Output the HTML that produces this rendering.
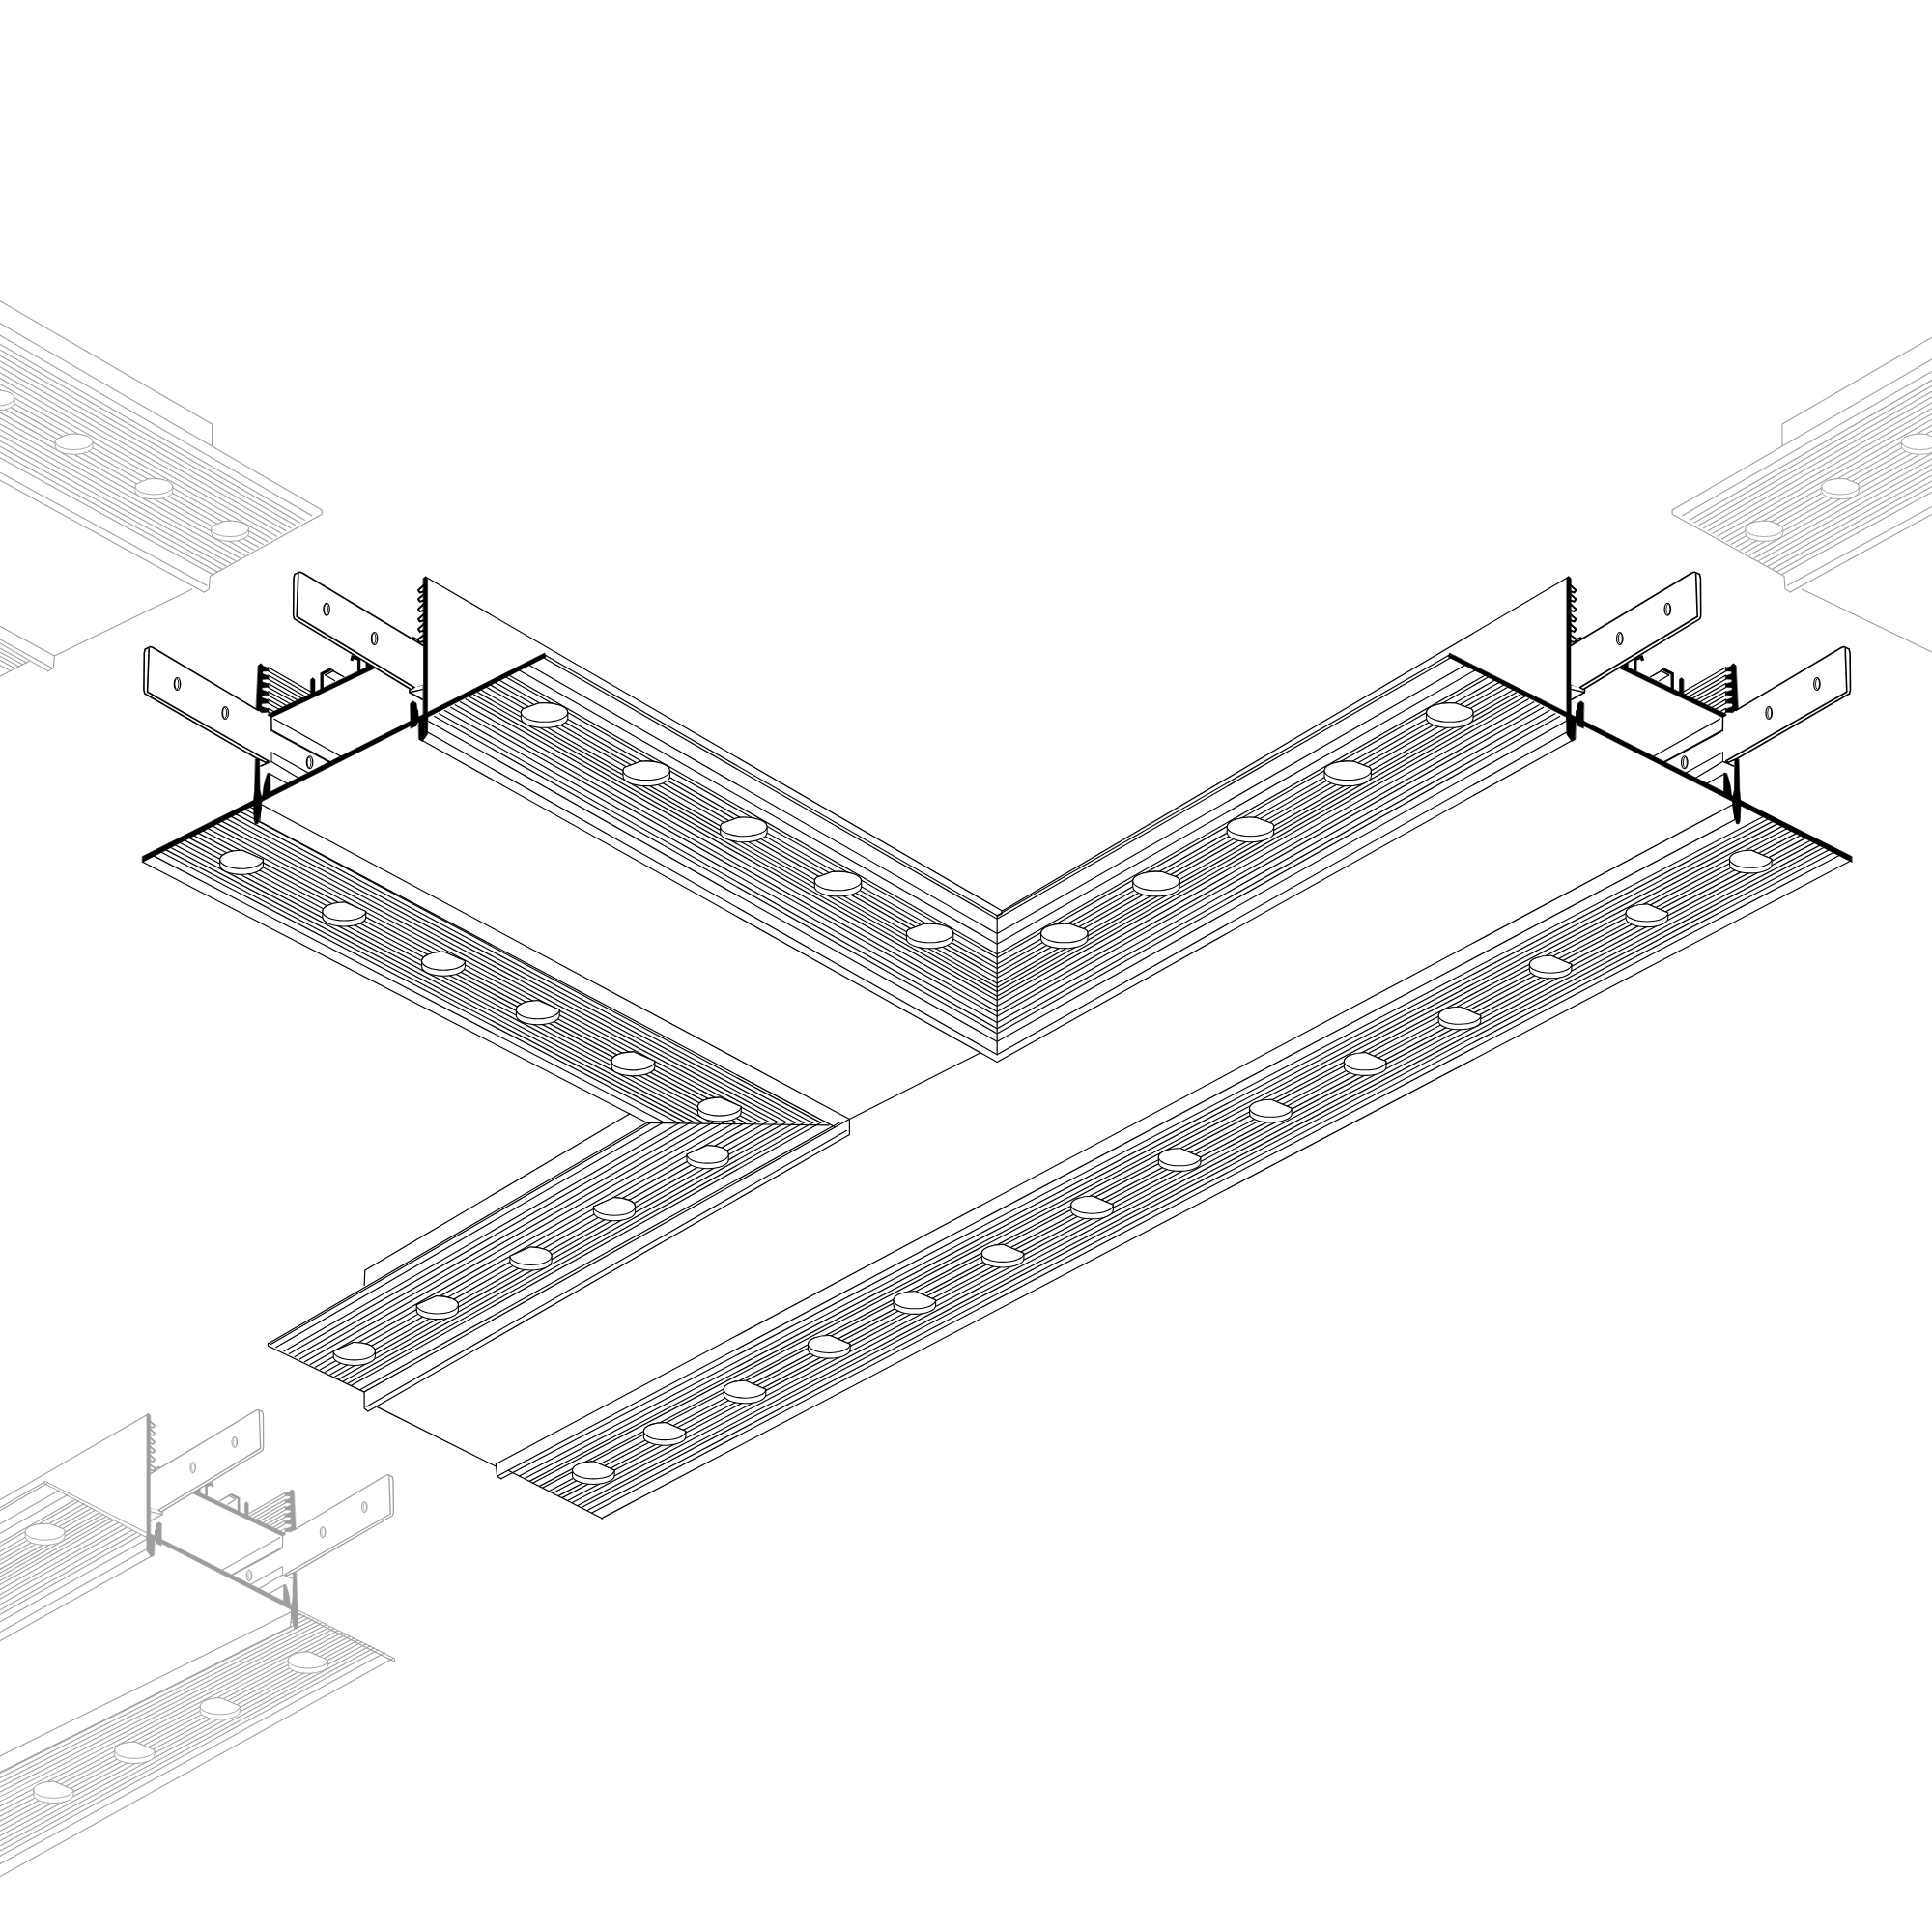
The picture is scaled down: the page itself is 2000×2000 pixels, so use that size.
<!DOCTYPE html>
<html><head><meta charset="utf-8"><title>T-connector</title>
<style>html,body{margin:0;padding:0;background:#fff;font-family:"Liberation Sans",sans-serif;}svg{display:block}</style>
</head><body>
<svg width="2000" height="2000" viewBox="0 0 2000 2000">
<rect width="2000" height="2000" fill="#fff"/>
<path d="M198.8,609.9 L56.4,678.9" fill="none" stroke="#9e9e9e" stroke-width="1.1" stroke-linejoin="round" stroke-linecap="round"/>
<path d="M56.4,678.9 L55.4,691.3 L49.7,694.9" fill="none" stroke="#9e9e9e" stroke-width="1.1" stroke-linejoin="round" stroke-linecap="round"/>
<path d="M56.4,678.9 L-10.0,642.9" fill="none" stroke="#9e9e9e" stroke-width="1.1" stroke-linejoin="round" stroke-linecap="round"/>
<path d="M53.8,691.6 L-10.0,656.4" fill="none" stroke="#9e9e9e" stroke-width="1.1" stroke-linejoin="round" stroke-linecap="round"/>
<path d="M49.7,694.9 L-10.0,660.0" fill="none" stroke="#9e9e9e" stroke-width="1.1" stroke-linejoin="round" stroke-linecap="round"/>
<path d="M30.0,684.6 L-10.0,705.2" fill="none" stroke="#9e9e9e" stroke-width="1.1" stroke-linejoin="round" stroke-linecap="round"/>
<path d="M-10.0,665.7 L27.5,685.9" fill="none" stroke="#9e9e9e" stroke-width="1.1" stroke-linejoin="round" stroke-linecap="round"/>
<path d="M-10.0,669.8 L23.6,687.9" fill="none" stroke="#9e9e9e" stroke-width="1.1" stroke-linejoin="round" stroke-linecap="round"/>
<path d="M-10.0,674.0 L19.6,689.9" fill="none" stroke="#9e9e9e" stroke-width="1.1" stroke-linejoin="round" stroke-linecap="round"/>
<path d="M-10.0,678.1 L15.7,691.9" fill="none" stroke="#9e9e9e" stroke-width="1.1" stroke-linejoin="round" stroke-linecap="round"/>
<path d="M-10.0,683.3 L10.8,694.5" fill="none" stroke="#9e9e9e" stroke-width="1.1" stroke-linejoin="round" stroke-linecap="round"/>
<path d="M-50.0,282.7 L219.5,439.0 L219.5,461.5" fill="none" stroke="#9e9e9e" stroke-width="1.1" stroke-linejoin="round" stroke-linecap="round"/>
<path d="M-50.0,305.5 L333.3,528.1 M-50.0,318.1 L323.2,534.0 M-50.0,327.5 L315.7,538.5 M-50.0,333.4 L310.9,541.3 M-50.0,339.4 L306.1,544.1 M-50.0,345.3 L301.4,546.9 M-50.0,351.3 L296.6,549.7 M-50.0,357.2 L291.8,552.6 M-50.0,363.2 L287.0,555.4 M-50.0,369.1 L282.3,558.2 M-50.0,375.1 L277.5,561.0 M-50.0,381.0 L272.7,563.8 M-50.0,387.0 L267.9,566.6 M-50.0,393.0 L263.2,569.4 M-50.0,398.9 L258.4,572.2 M-50.0,404.9 L253.6,575.1 M-50.0,410.8 L248.8,577.9 M-50.0,416.8 L244.1,580.7 M-50.0,422.7 L239.3,583.5 M-50.0,428.7 L234.5,586.3 M-50.0,434.6 L229.7,589.1 M-50.0,440.6 L225.0,591.9 M-50.0,446.5 L220.2,594.8" fill="none" stroke="#9e9e9e" stroke-width="1.1" stroke-linecap="butt"/>
<path d="M333.3,528.1 L333.3,532.2 L217.4,596.4 L216.4,609.9 L211.2,613.0" fill="none" stroke="#9e9e9e" stroke-width="1.1" stroke-linejoin="round" stroke-linecap="round"/>
<path d="M211.2,613.0 L-50.0,469.7" fill="none" stroke="#9e9e9e" stroke-width="1.1" stroke-linejoin="round" stroke-linecap="round"/>
<path d="M214.2,606.3 L-50.0,461.8" fill="none" stroke="#9e9e9e" stroke-width="1.1" stroke-linejoin="round" stroke-linecap="round"/>
<path d="M57.2,457.4 L57.2,462.2 A19.4,8.2 0 0 0 96.0,462.2 L96.0,457.4 A19.4,8.2 0 0 0 70.0,449.7 L58.4,454.6 A19.4,8.2 0 0 0 57.2,457.4 Z" fill="#fff" stroke="#9e9e9e" stroke-width="0.9" stroke-linejoin="round"/>
<path d="M57.2,457.4 A19.4,8.2 0 0 1 58.4,454.6 L70.0,449.7 A19.4,8.2 0 0 1 96.0,457.4 A19.4,8.2 0 0 1 57.2,457.4 Z" fill="#fff" stroke="#9e9e9e" stroke-width="0.9" stroke-linejoin="round"/>
<path d="M140.0,503.8 L140.0,508.6 A19.4,8.2 0 0 0 178.8,508.6 L178.8,503.8 A19.4,8.2 0 0 0 152.8,496.1 L141.2,501.0 A19.4,8.2 0 0 0 140.0,503.8 Z" fill="#fff" stroke="#9e9e9e" stroke-width="0.9" stroke-linejoin="round"/>
<path d="M140.0,503.8 A19.4,8.2 0 0 1 141.2,501.0 L152.8,496.1 A19.4,8.2 0 0 1 178.8,503.8 A19.4,8.2 0 0 1 140.0,503.8 Z" fill="#fff" stroke="#9e9e9e" stroke-width="0.9" stroke-linejoin="round"/>
<path d="M218.7,547.4 L218.7,552.2 A19.4,8.2 0 0 0 257.5,552.2 L257.5,547.4 A19.4,8.2 0 0 0 231.5,539.7 L219.9,544.6 A19.4,8.2 0 0 0 218.7,547.4 Z" fill="#fff" stroke="#9e9e9e" stroke-width="0.9" stroke-linejoin="round"/>
<path d="M218.7,547.4 A19.4,8.2 0 0 1 219.9,544.6 L231.5,539.7 A19.4,8.2 0 0 1 257.5,547.4 A19.4,8.2 0 0 1 218.7,547.4 Z" fill="#fff" stroke="#9e9e9e" stroke-width="0.9" stroke-linejoin="round"/>
<path d="M-23.8,412.1 L-23.8,416.9 A19.4,8.2 0 0 0 15.0,416.9 L15.0,412.1 A19.4,8.2 0 0 0 -11.0,404.4 L-22.6,409.3 A19.4,8.2 0 0 0 -23.8,412.1 Z" fill="#fff" stroke="#9e9e9e" stroke-width="0.9" stroke-linejoin="round"/>
<path d="M-23.8,412.1 A19.4,8.2 0 0 1 -22.6,409.3 L-11.0,404.4 A19.4,8.2 0 0 1 15.0,412.1 A19.4,8.2 0 0 1 -23.8,412.1 Z" fill="#fff" stroke="#9e9e9e" stroke-width="0.9" stroke-linejoin="round"/>
<path d="M1865.6,609.9 L2008.0,678.9" fill="none" stroke="#9e9e9e" stroke-width="1.1" stroke-linejoin="round" stroke-linecap="round"/>
<path d="M2008.0,678.9 L2009.0,691.3 L2014.7,694.9" fill="none" stroke="#9e9e9e" stroke-width="1.1" stroke-linejoin="round" stroke-linecap="round"/>
<path d="M2008.0,678.9 L2074.4,642.9" fill="none" stroke="#9e9e9e" stroke-width="1.1" stroke-linejoin="round" stroke-linecap="round"/>
<path d="M2010.6,691.6 L2074.4,656.4" fill="none" stroke="#9e9e9e" stroke-width="1.1" stroke-linejoin="round" stroke-linecap="round"/>
<path d="M2014.7,694.9 L2074.4,660.0" fill="none" stroke="#9e9e9e" stroke-width="1.1" stroke-linejoin="round" stroke-linecap="round"/>
<path d="M2034.4,684.6 L2074.4,705.2" fill="none" stroke="#9e9e9e" stroke-width="1.1" stroke-linejoin="round" stroke-linecap="round"/>
<path d="M2074.4,665.7 L2036.9,685.9" fill="none" stroke="#9e9e9e" stroke-width="1.1" stroke-linejoin="round" stroke-linecap="round"/>
<path d="M2074.4,669.8 L2040.8,687.9" fill="none" stroke="#9e9e9e" stroke-width="1.1" stroke-linejoin="round" stroke-linecap="round"/>
<path d="M2074.4,674.0 L2044.8,689.9" fill="none" stroke="#9e9e9e" stroke-width="1.1" stroke-linejoin="round" stroke-linecap="round"/>
<path d="M2074.4,678.1 L2048.7,691.9" fill="none" stroke="#9e9e9e" stroke-width="1.1" stroke-linejoin="round" stroke-linecap="round"/>
<path d="M2074.4,683.3 L2053.6,694.5" fill="none" stroke="#9e9e9e" stroke-width="1.1" stroke-linejoin="round" stroke-linecap="round"/>
<path d="M2114.4,282.7 L1844.9,439.0 L1844.9,461.5" fill="none" stroke="#9e9e9e" stroke-width="1.1" stroke-linejoin="round" stroke-linecap="round"/>
<path d="M2114.4,305.5 L1731.1,528.1 M2114.4,318.1 L1741.2,534.0 M2114.4,327.5 L1748.7,538.5 M2114.4,333.4 L1753.5,541.3 M2114.4,339.4 L1758.3,544.1 M2114.4,345.3 L1763.0,546.9 M2114.4,351.3 L1767.8,549.7 M2114.4,357.2 L1772.6,552.6 M2114.4,363.2 L1777.4,555.4 M2114.4,369.1 L1782.1,558.2 M2114.4,375.1 L1786.9,561.0 M2114.4,381.0 L1791.7,563.8 M2114.4,387.0 L1796.5,566.6 M2114.4,393.0 L1801.2,569.4 M2114.4,398.9 L1806.0,572.2 M2114.4,404.9 L1810.8,575.1 M2114.4,410.8 L1815.6,577.9 M2114.4,416.8 L1820.3,580.7 M2114.4,422.7 L1825.1,583.5 M2114.4,428.7 L1829.9,586.3 M2114.4,434.6 L1834.7,589.1 M2114.4,440.6 L1839.4,591.9 M2114.4,446.5 L1844.2,594.8" fill="none" stroke="#9e9e9e" stroke-width="1.1" stroke-linecap="butt"/>
<path d="M1731.1,528.1 L1731.1,532.2 L1847.0,596.4 L1848.0,609.9 L1853.2,613.0" fill="none" stroke="#9e9e9e" stroke-width="1.1" stroke-linejoin="round" stroke-linecap="round"/>
<path d="M1853.2,613.0 L2114.4,469.7" fill="none" stroke="#9e9e9e" stroke-width="1.1" stroke-linejoin="round" stroke-linecap="round"/>
<path d="M1850.2,606.3 L2114.4,461.8" fill="none" stroke="#9e9e9e" stroke-width="1.1" stroke-linejoin="round" stroke-linecap="round"/>
<path d="M2007.2,457.4 L2007.2,462.2 A19.4,8.2 0 0 1 1968.4,462.2 L1968.4,457.4 A19.4,8.2 0 0 1 1994.4,449.7 L2006.0,454.6 A19.4,8.2 0 0 1 2007.2,457.4 Z" fill="#fff" stroke="#9e9e9e" stroke-width="0.9" stroke-linejoin="round"/>
<path d="M2007.2,457.4 A19.4,8.2 0 0 0 2006.0,454.6 L1994.4,449.7 A19.4,8.2 0 0 0 1968.4,457.4 A19.4,8.2 0 0 0 2007.2,457.4 Z" fill="#fff" stroke="#9e9e9e" stroke-width="0.9" stroke-linejoin="round"/>
<path d="M1924.4,503.8 L1924.4,508.6 A19.4,8.2 0 0 1 1885.6,508.6 L1885.6,503.8 A19.4,8.2 0 0 1 1911.6,496.1 L1923.2,501.0 A19.4,8.2 0 0 1 1924.4,503.8 Z" fill="#fff" stroke="#9e9e9e" stroke-width="0.9" stroke-linejoin="round"/>
<path d="M1924.4,503.8 A19.4,8.2 0 0 0 1923.2,501.0 L1911.6,496.1 A19.4,8.2 0 0 0 1885.6,503.8 A19.4,8.2 0 0 0 1924.4,503.8 Z" fill="#fff" stroke="#9e9e9e" stroke-width="0.9" stroke-linejoin="round"/>
<path d="M1845.7,547.4 L1845.7,552.2 A19.4,8.2 0 0 1 1806.9,552.2 L1806.9,547.4 A19.4,8.2 0 0 1 1832.9,539.7 L1844.5,544.6 A19.4,8.2 0 0 1 1845.7,547.4 Z" fill="#fff" stroke="#9e9e9e" stroke-width="0.9" stroke-linejoin="round"/>
<path d="M1845.7,547.4 A19.4,8.2 0 0 0 1844.5,544.6 L1832.9,539.7 A19.4,8.2 0 0 0 1806.9,547.4 A19.4,8.2 0 0 0 1845.7,547.4 Z" fill="#fff" stroke="#9e9e9e" stroke-width="0.9" stroke-linejoin="round"/>
<path d="M2088.2,412.1 L2088.2,416.9 A19.4,8.2 0 0 1 2049.4,416.9 L2049.4,412.1 A19.4,8.2 0 0 1 2075.4,404.4 L2087.0,409.3 A19.4,8.2 0 0 1 2088.2,412.1 Z" fill="#fff" stroke="#9e9e9e" stroke-width="0.9" stroke-linejoin="round"/>
<path d="M2088.2,412.1 A19.4,8.2 0 0 0 2087.0,409.3 L2075.4,404.4 A19.4,8.2 0 0 0 2049.4,412.1 A19.4,8.2 0 0 0 2088.2,412.1 Z" fill="#fff" stroke="#9e9e9e" stroke-width="0.9" stroke-linejoin="round"/>
<path d="M398.8,1710.4 L-72.2,1969.3 M392.1,1707.4 L-81.3,1965.7 M387.9,1705.4 L-87.0,1963.3 M383.7,1703.5 L-92.8,1961.0 M379.4,1701.6 L-98.6,1958.6 M375.2,1699.6 L-104.4,1956.3 M371.0,1697.7 L-110.1,1953.9 M366.7,1695.8 L-115.9,1951.6 M362.5,1693.8 L-121.7,1949.2 M358.3,1691.9 L-127.4,1946.9 M354.1,1690.0 L-133.2,1944.6 M349.8,1688.0 L-139.0,1942.2 M345.6,1686.1 L-144.7,1939.9 M341.4,1684.2 L-150.5,1937.5 M337.2,1682.3 L-156.3,1935.2 M332.9,1680.3 L-162.0,1932.8 M328.7,1678.4 L-167.8,1930.5 M324.5,1676.5 L-173.6,1928.1 M320.2,1674.5 L-179.3,1925.8 M316.0,1672.6 L-185.1,1923.5 M311.8,1670.7 L-190.9,1921.1 M307.6,1668.7 L-196.6,1918.8" fill="none" stroke="#9e9e9e" stroke-width="1.1" stroke-linecap="butt"/>
<path d="M407.7,1716.2 L-60.0,1976.0" fill="none" stroke="#9e9e9e" stroke-width="1.1" stroke-linejoin="round" stroke-linecap="round"/>
<path d="M302.0,1668.6 L-200.0,1916.9 L-200.0,1935.0 L300.5,1683.9 Z" fill="#fff" stroke="#9e9e9e" stroke-width="1.1" stroke-linejoin="round" stroke-linecap="round"/>
<path d="M339.5,1718.5 L339.5,1723.7 A20.6,8.6 0 0 1 298.3,1723.7 L298.3,1718.5 A20.6,8.6 0 0 1 319.6,1709.9 L339.5,1718.5 A20.6,8.6 0 0 1 339.5,1718.5 Z" fill="#fff" stroke="#9e9e9e" stroke-width="0.9" stroke-linejoin="round"/>
<path d="M339.5,1718.5 A20.6,8.6 0 0 0 339.5,1718.5 L319.6,1709.9 A20.6,8.6 0 0 0 298.3,1718.5 A20.6,8.6 0 0 0 339.5,1718.5 Z" fill="#fff" stroke="#9e9e9e" stroke-width="0.9" stroke-linejoin="round"/>
<path d="M248.4,1766.3 L248.4,1771.5 A20.6,8.6 0 0 1 207.2,1771.5 L207.2,1766.3 A20.6,8.6 0 0 1 228.5,1757.7 L248.4,1766.3 A20.6,8.6 0 0 1 248.4,1766.3 Z" fill="#fff" stroke="#9e9e9e" stroke-width="0.9" stroke-linejoin="round"/>
<path d="M248.4,1766.3 A20.6,8.6 0 0 0 248.4,1766.3 L228.5,1757.7 A20.6,8.6 0 0 0 207.2,1766.3 A20.6,8.6 0 0 0 248.4,1766.3 Z" fill="#fff" stroke="#9e9e9e" stroke-width="0.9" stroke-linejoin="round"/>
<path d="M160.0,1811.8 L160.0,1817.0 A20.6,8.6 0 0 1 118.8,1817.0 L118.8,1811.8 A20.6,8.6 0 0 1 140.1,1803.2 L160.0,1811.8 A20.6,8.6 0 0 1 160.0,1811.8 Z" fill="#fff" stroke="#9e9e9e" stroke-width="0.9" stroke-linejoin="round"/>
<path d="M160.0,1811.8 A20.6,8.6 0 0 0 160.0,1811.8 L140.1,1803.2 A20.6,8.6 0 0 0 118.8,1811.8 A20.6,8.6 0 0 0 160.0,1811.8 Z" fill="#fff" stroke="#9e9e9e" stroke-width="0.9" stroke-linejoin="round"/>
<path d="M76.0,1852.8 L76.0,1858.0 A20.6,8.6 0 0 1 34.8,1858.0 L34.8,1852.8 A20.6,8.6 0 0 1 56.1,1844.2 L76.0,1852.8 A20.6,8.6 0 0 1 76.0,1852.8 Z" fill="#fff" stroke="#9e9e9e" stroke-width="0.9" stroke-linejoin="round"/>
<path d="M76.0,1852.8 A20.6,8.6 0 0 0 76.0,1852.8 L56.1,1844.2 A20.6,8.6 0 0 0 34.8,1852.8 A20.6,8.6 0 0 0 76.0,1852.8 Z" fill="#fff" stroke="#9e9e9e" stroke-width="0.9" stroke-linejoin="round"/>
<path d="M-4.4,1891.9 L-4.4,1897.1 A20.6,8.6 0 0 1 -45.6,1897.1 L-45.6,1891.9 A20.6,8.6 0 0 1 -24.3,1883.3 L-4.4,1891.9 A20.6,8.6 0 0 1 -4.4,1891.9 Z" fill="#fff" stroke="#9e9e9e" stroke-width="0.9" stroke-linejoin="round"/>
<path d="M-4.4,1891.9 A20.6,8.6 0 0 0 -4.4,1891.9 L-24.3,1883.3 A20.6,8.6 0 0 0 -45.6,1891.9 A20.6,8.6 0 0 0 -4.4,1891.9 Z" fill="#fff" stroke="#9e9e9e" stroke-width="0.9" stroke-linejoin="round"/>
<path d="M46.3,1534.0 L-361.1,1768.7 M49.0,1535.5 L-361.1,1771.7 M61.5,1542.4 L-361.1,1785.0 M70.2,1547.2 L-361.1,1794.3 M78.9,1552.0 L-361.1,1803.5 M82.0,1553.7 L-361.1,1806.8 M87.3,1556.6 L-361.1,1812.5 M91.0,1558.7 L-361.1,1816.4 M95.3,1561.0 L-361.1,1821.0 M98.9,1563.0 L-361.1,1824.8 M103.6,1565.6 L-361.1,1829.8 M107.0,1567.5 L-361.1,1833.5 M110.5,1569.4 L-361.1,1837.2 M114.4,1571.5 L-361.1,1841.3 M117.9,1573.5 L-361.1,1845.0 M122.7,1576.1 L-361.1,1850.2 M127.5,1578.8 L-361.1,1855.3 M131.3,1580.9 L-361.1,1859.3 M136.7,1583.9 L-361.1,1865.1 M141.7,1586.6 L-361.1,1870.5 M146.0,1589.0 L-361.1,1875.0 M152.8,1592.7 L-361.1,1882.3" fill="none" stroke="#9e9e9e" stroke-width="1.1" stroke-linecap="butt"/>
<path d="M153.6,1463.8 L-365.3,1764.1" fill="none" stroke="#9e9e9e" stroke-width="1.1" stroke-linejoin="round" stroke-linecap="round"/>
<path d="M153.3,1602.8 L-361.1,1894.0" fill="none" stroke="#9e9e9e" stroke-width="1.1" stroke-linejoin="round" stroke-linecap="round"/>
<path d="M156.7,1610.9 L-361.1,1900.7" fill="none" stroke="#9e9e9e" stroke-width="1.1" stroke-linejoin="round" stroke-linecap="round"/>
<path d="M67.1,1585.8 L67.1,1591.0 A20.5,8.5 0 0 1 26.1,1591.0 L26.1,1585.8 A20.5,8.5 0 0 1 51.9,1577.6 L65.9,1582.9 A20.5,8.5 0 0 1 67.1,1585.8 Z" fill="#fff" stroke="#9e9e9e" stroke-width="0.9" stroke-linejoin="round"/>
<path d="M67.1,1585.8 A20.5,8.5 0 0 0 65.9,1582.9 L51.9,1577.6 A20.5,8.5 0 0 0 26.1,1585.8 A20.5,8.5 0 0 0 67.1,1585.8 Z" fill="#fff" stroke="#9e9e9e" stroke-width="0.9" stroke-linejoin="round"/>
<path d="M295.3,1545.2 L257.2,1567.0" fill="none" stroke="#9e9e9e" stroke-width="1.1" stroke-linejoin="round" stroke-linecap="round"/>
<path d="M295.3,1548.6 L257.7,1570.1" fill="none" stroke="#9e9e9e" stroke-width="1.1" stroke-linejoin="round" stroke-linecap="round"/>
<path d="M295.3,1552.4 L261.3,1571.8" fill="none" stroke="#9e9e9e" stroke-width="1.1" stroke-linejoin="round" stroke-linecap="round"/>
<path d="M295.3,1555.9 L264.6,1573.4" fill="none" stroke="#9e9e9e" stroke-width="1.1" stroke-linejoin="round" stroke-linecap="round"/>
<path d="M295.3,1559.6 L268.2,1575.1" fill="none" stroke="#9e9e9e" stroke-width="1.1" stroke-linejoin="round" stroke-linecap="round"/>
<path d="M295.3,1563.1 L271.5,1576.7" fill="none" stroke="#9e9e9e" stroke-width="1.1" stroke-linejoin="round" stroke-linecap="round"/>
<path d="M295.3,1566.8 L275.1,1578.4" fill="none" stroke="#9e9e9e" stroke-width="1.1" stroke-linejoin="round" stroke-linecap="round"/>
<path d="M295.3,1570.3 L278.4,1580.0" fill="none" stroke="#9e9e9e" stroke-width="1.1" stroke-linejoin="round" stroke-linecap="round"/>
<path d="M295.3,1574.0 L282.0,1581.7" fill="none" stroke="#9e9e9e" stroke-width="1.1" stroke-linejoin="round" stroke-linecap="round"/>
<path d="M295.3,1577.5 L285.3,1583.3" fill="none" stroke="#9e9e9e" stroke-width="1.1" stroke-linejoin="round" stroke-linecap="round"/>
<path d="M295.3,1582.1 L289.7,1585.4" fill="none" stroke="#9e9e9e" stroke-width="1.1" stroke-linejoin="round" stroke-linecap="round"/>
<path d="M295.3,1585.6 L293.0,1587.0" fill="none" stroke="#9e9e9e" stroke-width="1.1" stroke-linejoin="round" stroke-linecap="round"/>
<path d="M295.5,1587.3 L196.8,1540.3 L196.8,1544.7 L295.5,1591.8 Z" fill="#9e9e9e" stroke="#9e9e9e" stroke-width="0.4" stroke-linejoin="round" stroke-linecap="round"/>
<path d="M257.1,1556.2 L255.2,1554.5 L253.3,1556.2 L253.3,1570.1 L257.1,1571.9 Z" fill="#9e9e9e" stroke="#9e9e9e" stroke-width="0.4" stroke-linejoin="round" stroke-linecap="round"/>
<path d="M247.1,1565.8 L247.1,1551.1 L239.4,1547.1" fill="none" stroke="#9e9e9e" stroke-width="2.6" stroke-linejoin="miter" stroke-linecap="butt"/>
<path d="M239.4,1546.7 L236.6,1548.2 L243.8,1552.1" fill="none" stroke="#9e9e9e" stroke-width="1.1" stroke-linejoin="round" stroke-linecap="round"/>
<path d="M239.6,1546.9 L229.8,1552.6" fill="none" stroke="#9e9e9e" stroke-width="1.1" stroke-linejoin="round" stroke-linecap="round"/>
<path d="M236.8,1548.3 L227.2,1553.9" fill="none" stroke="#9e9e9e" stroke-width="1.1" stroke-linejoin="round" stroke-linecap="round"/>
<path d="M243.9,1552.3 L235.5,1557.2" fill="none" stroke="#9e9e9e" stroke-width="1.1" stroke-linejoin="round" stroke-linecap="round"/>
<path d="M220.3,1539.2 L219.4,1535.9 L213.6,1537.9 L213.6,1548.6" fill="none" stroke="#9e9e9e" stroke-width="2.6" stroke-linejoin="miter" stroke-linecap="butt"/>
<path d="M207.2,1541.0 L202.9,1538.8 L199.4,1541.0 L199.4,1544.9 L207.2,1548.4 Z" fill="#9e9e9e" stroke="#9e9e9e" stroke-width="0.4" stroke-linejoin="round" stroke-linecap="round"/>
<path d="M289.9,1591.6 L230.1,1625.3" fill="none" stroke="#9e9e9e" stroke-width="1.1" stroke-linejoin="round" stroke-linecap="round"/>
<path d="M292.6,1601.5 L239.7,1630.2" fill="none" stroke="#9e9e9e" stroke-width="1.1" stroke-linejoin="round" stroke-linecap="round"/>
<path d="M290.8,1603.4 L240.4,1630.6" fill="none" stroke="#9e9e9e" stroke-width="1.1" stroke-linejoin="round" stroke-linecap="round"/>
<path d="M291.8,1622.1 L259.3,1640.2" fill="none" stroke="#9e9e9e" stroke-width="1.1" stroke-linejoin="round" stroke-linecap="round"/>
<path d="M292.7,1630.0 L268.2,1644.7" fill="none" stroke="#9e9e9e" stroke-width="1.1" stroke-linejoin="round" stroke-linecap="round"/>
<path d="M294.2,1640.9 L278.3,1649.8" fill="none" stroke="#9e9e9e" stroke-width="1.1" stroke-linejoin="round" stroke-linecap="round"/>
<path d="M293.1,1590.1 L292.9,1602.1" fill="none" stroke="#9e9e9e" stroke-width="2.1" stroke-linejoin="round" stroke-linecap="round"/>
<path d="M302.1,1634.0 L292.7,1630.0 L292.7,1621.6" fill="none" stroke="#9e9e9e" stroke-width="1.3" stroke-linejoin="round" stroke-linecap="round"/>
<ellipse cx="258.0" cy="1630.9" rx="2.8" ry="5.6" fill="none" stroke="#9e9e9e" stroke-width="1.0"/>
<ellipse cx="258.5" cy="1630.9" rx="1.7" ry="4.7" fill="none" stroke="#9e9e9e" stroke-width="0.7"/>
<path d="M295.9,1640.6 L293.5,1640.2 L293.3,1660.2 L300.7,1662.8 L299.4,1652.3 L297.7,1645.4 Z" fill="#9e9e9e" stroke="#9e9e9e" stroke-width="0.4" stroke-linejoin="round" stroke-linecap="round"/>
<path d="M305.5,1663.4 L155.9,1587.7 L155.9,1592.0 L305.5,1668.4 Z" fill="#9e9e9e" stroke="#9e9e9e" stroke-width="0.5" stroke-linejoin="round" stroke-linecap="round"/>
<path d="M305.5,1665.4 L408.6,1717.0 L408.6,1720.2" fill="none" stroke="#9e9e9e" stroke-width="1.0" stroke-linejoin="round" stroke-linecap="round"/>
<path d="M408.6,1720.2 L305.5,1668.4" fill="none" stroke="#9e9e9e" stroke-width="1.1" stroke-linejoin="round" stroke-linecap="round"/>
<path d="M155.9,1588.8 L46.3,1533.2 L45.4,1535.3 L152.4,1591.9" fill="none" stroke="#9e9e9e" stroke-width="1.0" stroke-linejoin="round" stroke-linecap="round"/>
<path d="M306.7,1628.0 L303.3,1628.0 L302.9,1655.8 L301.0,1663.7 L301.9,1673.2 L304.6,1685.9 L306.7,1686.3 L308.0,1683.7 L308.7,1668.0 L307.6,1655.8 Z" fill="#9e9e9e" stroke="#9e9e9e" stroke-width="0.5" stroke-linejoin="round" stroke-linecap="round"/>
<path d="M407.0,1532.3 L406.2,1528.8 L401.6,1526.6 L399.5,1527.3 L304.1,1584.0 L293.2,1590.1 L292.8,1629.9 L295.3,1629.6 L297.2,1631.1 L306.1,1627.1 L406.6,1568.8 L407.4,1565.3 Z" fill="#fff" stroke="#9e9e9e" stroke-width="0.0" stroke-linejoin="round" stroke-linecap="round"/>
<path d="M304.4,1584.0 L399.5,1527.2 L401.6,1526.6 L406.2,1528.8 L407.0,1532.3 L407.4,1565.3 L406.6,1568.8 L306.1,1626.9 L297.2,1630.9 L295.3,1629.5" fill="none" stroke="#9e9e9e" stroke-width="1.3" stroke-linejoin="round" stroke-linecap="round"/>
<path d="M402.8,1528.6 L404.2,1567.3 L295.3,1629.5" fill="none" stroke="#9e9e9e" stroke-width="1.3" stroke-linejoin="round" stroke-linecap="round"/>
<ellipse cx="377.3" cy="1560.1" rx="2.8" ry="5.6" fill="none" stroke="#9e9e9e" stroke-width="1.0"/>
<ellipse cx="377.8" cy="1560.1" rx="1.7" ry="4.7" fill="none" stroke="#9e9e9e" stroke-width="0.7"/>
<ellipse cx="334.1" cy="1586.2" rx="2.8" ry="5.6" fill="none" stroke="#9e9e9e" stroke-width="1.0"/>
<ellipse cx="334.6" cy="1586.2" rx="1.7" ry="4.7" fill="none" stroke="#9e9e9e" stroke-width="0.7"/>
<path d="M304.4,1543.6 L302.2,1541.7 L300.3,1543.1 L301.5,1585.4 L306.2,1583.0 Z" fill="#9e9e9e" stroke="#9e9e9e" stroke-width="0.4" stroke-linejoin="round" stroke-linecap="round"/>
<path d="M301.6,1543.4 L294.9,1545.8 L294.9,1548.6 L301.6,1549.1 Z" fill="#9e9e9e" stroke="#9e9e9e" stroke-width="0.3" stroke-linejoin="round" stroke-linecap="round"/>
<path d="M301.6,1550.6 L294.9,1553.0 L294.9,1555.8 L301.6,1556.3 Z" fill="#9e9e9e" stroke="#9e9e9e" stroke-width="0.3" stroke-linejoin="round" stroke-linecap="round"/>
<path d="M301.6,1557.9 L294.9,1560.2 L294.9,1563.0 L301.6,1563.5 Z" fill="#9e9e9e" stroke="#9e9e9e" stroke-width="0.3" stroke-linejoin="round" stroke-linecap="round"/>
<path d="M301.6,1565.1 L294.9,1567.4 L294.9,1570.2 L301.6,1570.7 Z" fill="#9e9e9e" stroke="#9e9e9e" stroke-width="0.3" stroke-linejoin="round" stroke-linecap="round"/>
<path d="M301.6,1572.3 L294.9,1574.7 L294.9,1577.4 L301.6,1578.0 Z" fill="#9e9e9e" stroke="#9e9e9e" stroke-width="0.3" stroke-linejoin="round" stroke-linecap="round"/>
<path d="M301.6,1580.4 L294.9,1582.7 L294.9,1585.5 L301.6,1586.0 Z" fill="#9e9e9e" stroke="#9e9e9e" stroke-width="0.3" stroke-linejoin="round" stroke-linecap="round"/>
<path d="M155.7,1464.9 L153.6,1463.2 L151.9,1464.4 L151.9,1593.2 L155.7,1594.9 Z" fill="#9e9e9e" stroke="#9e9e9e" stroke-width="0.4" stroke-linejoin="round" stroke-linecap="round"/>
<path d="M155.4,1471.3 L160.2,1475.6 L158.8,1477.9 L155.4,1476.9" fill="none" stroke="#9e9e9e" stroke-width="1.6" stroke-linejoin="round" stroke-linecap="round"/>
<path d="M155.4,1479.4 L160.2,1483.7 L158.8,1486.0 L155.4,1485.0" fill="none" stroke="#9e9e9e" stroke-width="1.6" stroke-linejoin="round" stroke-linecap="round"/>
<path d="M155.4,1488.3 L160.2,1492.7 L158.8,1495.0 L155.4,1493.9" fill="none" stroke="#9e9e9e" stroke-width="1.6" stroke-linejoin="round" stroke-linecap="round"/>
<path d="M155.4,1497.4 L160.2,1501.7 L158.8,1504.0 L155.4,1503.0" fill="none" stroke="#9e9e9e" stroke-width="1.6" stroke-linejoin="round" stroke-linecap="round"/>
<path d="M155.4,1506.4 L160.2,1510.8 L158.8,1513.1 L155.4,1512.0" fill="none" stroke="#9e9e9e" stroke-width="1.6" stroke-linejoin="round" stroke-linecap="round"/>
<path d="M155.4,1516.2 L160.7,1520.1 L159.4,1522.7 L155.4,1521.8" fill="none" stroke="#9e9e9e" stroke-width="1.6" stroke-linejoin="round" stroke-linecap="round"/>
<path d="M160.2,1520.5 L164.6,1518.4 L165.8,1520.3 L156.7,1525.6" fill="none" stroke="#9e9e9e" stroke-width="1.4" stroke-linejoin="round" stroke-linecap="round"/>
<path d="M160.1,1589.7 L151.7,1589.7 L151.9,1605.4 L156.5,1612.0 L159.5,1610.2 Z" fill="#9e9e9e" stroke="#9e9e9e" stroke-width="0.5" stroke-linejoin="round" stroke-linecap="round"/>
<path d="M167.4,1577.5 L164.9,1575.6 L162.0,1577.5 L159.9,1591.4 L162.0,1598.0 L167.0,1600.1 Z" fill="#9e9e9e" stroke="#9e9e9e" stroke-width="0.4" stroke-linejoin="round" stroke-linecap="round"/>
<path d="M163.3,1581.9 L160.7,1584.5 L160.7,1591.4 L158.5,1593.2" fill="none" stroke="#9e9e9e" stroke-width="1.1" stroke-linejoin="round" stroke-linecap="round"/>
<path d="M156.3,1560.8 L168.1,1563.6 L168.1,1567.8 L156.3,1574.2" fill="none" stroke="#9e9e9e" stroke-width="1.3" stroke-linejoin="round" stroke-linecap="round"/>
<path d="M168.1,1567.8 L156.3,1565.0" fill="none" stroke="#9e9e9e" stroke-width="1.1" stroke-linejoin="round" stroke-linecap="round"/>
<path d="M272.5,1464.9 L271.6,1461.4 L267.1,1459.4 L264.8,1460.1 L155.9,1525.6 L155.9,1561.0 L164.0,1563.3 L166.7,1565.1 L271.9,1501.5 L272.7,1498.4 Z" fill="#fff" stroke="#9e9e9e" stroke-width="0.0" stroke-linejoin="round" stroke-linecap="round"/>
<path d="M155.9,1525.6 L264.8,1460.1 L267.1,1459.4 L271.6,1461.4 L272.5,1464.9 L272.7,1498.4 L271.9,1501.5 L166.7,1565.1 L164.0,1563.2" fill="none" stroke="#9e9e9e" stroke-width="1.3" stroke-linejoin="round" stroke-linecap="round"/>
<path d="M268.3,1461.1 L269.7,1499.4 L164.0,1563.2" fill="none" stroke="#9e9e9e" stroke-width="1.3" stroke-linejoin="round" stroke-linecap="round"/>
<ellipse cx="242.8" cy="1492.9" rx="2.8" ry="5.6" fill="none" stroke="#9e9e9e" stroke-width="1.0"/>
<ellipse cx="243.3" cy="1492.9" rx="1.7" ry="4.7" fill="none" stroke="#9e9e9e" stroke-width="0.7"/>
<ellipse cx="199.7" cy="1519.2" rx="2.8" ry="5.6" fill="none" stroke="#9e9e9e" stroke-width="1.0"/>
<ellipse cx="200.2" cy="1519.2" rx="1.7" ry="4.7" fill="none" stroke="#9e9e9e" stroke-width="0.7"/>
<path d="M879.4,1158.5 L1014.3,1090.2" fill="none" stroke="#000" stroke-width="1.2" stroke-linejoin="round" stroke-linecap="round"/>
<path d="M390.7,1456.6 L513.4,1518.0" fill="none" stroke="#000" stroke-width="1.2" stroke-linejoin="round" stroke-linecap="round"/>
<path d="M564.0,678.0 L1032.2,947.8 M560.8,679.8 L1032.2,951.2 M546.5,687.7 L1032.2,966.5 M536.4,693.2 L1032.2,977.2 M526.5,698.7 L1032.2,987.7 M523.0,700.6 L1032.2,991.5 M516.8,704.0 L1032.2,998.0 M512.5,706.4 L1032.2,1002.6 M507.6,709.0 L1032.2,1007.8 M503.5,711.3 L1032.2,1012.3 M498.1,714.3 L1032.2,1018.0 M494.2,716.5 L1032.2,1022.2 M490.1,718.7 L1032.2,1026.5 M485.7,721.1 L1032.2,1031.2 M481.7,723.4 L1032.2,1035.5 M476.2,726.4 L1032.2,1041.4 M470.7,729.4 L1032.2,1047.2 M466.2,731.9 L1032.2,1051.9 M460.0,735.3 L1032.2,1058.6 M454.2,738.5 L1032.2,1064.7 M449.3,741.2 L1032.2,1069.9 M441.5,745.5 L1032.2,1078.3" fill="none" stroke="#000" stroke-width="1.2" stroke-linecap="butt"/>
<path d="M440.6,597.3 L1037.0,942.7" fill="none" stroke="#000" stroke-width="1.2" stroke-linejoin="round" stroke-linecap="round"/>
<path d="M441.0,757.0 L1032.2,1091.8" fill="none" stroke="#000" stroke-width="1.2" stroke-linejoin="round" stroke-linecap="round"/>
<path d="M437.0,766.4 L1032.2,1099.5" fill="none" stroke="#000" stroke-width="1.2" stroke-linejoin="round" stroke-linecap="round"/>
<path d="M1500.4,678.0 L1032.2,947.8 M1503.6,679.8 L1032.2,951.2 M1517.9,687.7 L1032.2,966.5 M1528.0,693.2 L1032.2,977.2 M1537.9,698.7 L1032.2,987.7 M1541.4,700.6 L1032.2,991.5 M1547.6,704.0 L1032.2,998.0 M1551.9,706.4 L1032.2,1002.6 M1556.8,709.0 L1032.2,1007.8 M1560.9,711.3 L1032.2,1012.3 M1566.3,714.3 L1032.2,1018.0 M1570.2,716.5 L1032.2,1022.2 M1574.3,718.7 L1032.2,1026.5 M1578.7,721.1 L1032.2,1031.2 M1582.7,723.4 L1032.2,1035.5 M1588.2,726.4 L1032.2,1041.4 M1593.7,729.4 L1032.2,1047.2 M1598.2,731.9 L1032.2,1051.9 M1604.4,735.3 L1032.2,1058.6 M1610.2,738.5 L1032.2,1064.7 M1615.1,741.2 L1032.2,1069.9 M1622.9,745.5 L1032.2,1078.3" fill="none" stroke="#000" stroke-width="1.2" stroke-linecap="butt"/>
<path d="M1623.8,597.3 L1037.6,943.0" fill="none" stroke="#000" stroke-width="1.2" stroke-linejoin="round" stroke-linecap="round"/>
<path d="M1623.4,757.0 L1032.2,1091.8" fill="none" stroke="#000" stroke-width="1.2" stroke-linejoin="round" stroke-linecap="round"/>
<path d="M1627.4,766.4 L1032.2,1099.5" fill="none" stroke="#000" stroke-width="1.2" stroke-linejoin="round" stroke-linecap="round"/>
<path d="M1037.0,942.7 L1037.0,946.2 L1032.2,948.4" fill="none" stroke="#000" stroke-width="1.2" stroke-linejoin="round" stroke-linecap="round"/>
<path d="M1032.2,947.8 L1032.2,1091.8" fill="none" stroke="#000" stroke-width="1.2" stroke-linejoin="round" stroke-linecap="round"/>
<path d="M539.4,737.5 L539.4,743.5 A24.2,9.8 0 0 0 587.8,743.5 L587.8,737.5 A24.2,9.8 0 0 0 557.3,728.0 L540.9,734.1 A24.2,9.8 0 0 0 539.4,737.5 Z" fill="#fff" stroke="#000" stroke-width="1.1" stroke-linejoin="round"/>
<path d="M539.4,737.5 A24.2,9.8 0 0 1 540.9,734.1 L557.3,728.0 A24.2,9.8 0 0 1 587.8,737.5 A24.2,9.8 0 0 1 539.4,737.5 Z" fill="#fff" stroke="#000" stroke-width="1.1" stroke-linejoin="round"/>
<path d="M1525.0,737.5 L1525.0,743.5 A24.2,9.8 0 0 1 1476.6,743.5 L1476.6,737.5 A24.2,9.8 0 0 1 1507.1,728.0 L1523.5,734.1 A24.2,9.8 0 0 1 1525.0,737.5 Z" fill="#fff" stroke="#000" stroke-width="1.1" stroke-linejoin="round"/>
<path d="M1525.0,737.5 A24.2,9.8 0 0 0 1523.5,734.1 L1507.1,728.0 A24.2,9.8 0 0 0 1476.6,737.5 A24.2,9.8 0 0 0 1525.0,737.5 Z" fill="#fff" stroke="#000" stroke-width="1.1" stroke-linejoin="round"/>
<path d="M645.0,797.8 L645.0,803.8 A24.2,9.8 0 0 0 693.4,803.8 L693.4,797.8 A24.2,9.8 0 0 0 662.9,788.3 L646.5,794.4 A24.2,9.8 0 0 0 645.0,797.8 Z" fill="#fff" stroke="#000" stroke-width="1.1" stroke-linejoin="round"/>
<path d="M645.0,797.8 A24.2,9.8 0 0 1 646.5,794.4 L662.9,788.3 A24.2,9.8 0 0 1 693.4,797.8 A24.2,9.8 0 0 1 645.0,797.8 Z" fill="#fff" stroke="#000" stroke-width="1.1" stroke-linejoin="round"/>
<path d="M1419.4,797.8 L1419.4,803.8 A24.2,9.8 0 0 1 1371.0,803.8 L1371.0,797.8 A24.2,9.8 0 0 1 1401.5,788.3 L1417.9,794.4 A24.2,9.8 0 0 1 1419.4,797.8 Z" fill="#fff" stroke="#000" stroke-width="1.1" stroke-linejoin="round"/>
<path d="M1419.4,797.8 A24.2,9.8 0 0 0 1417.9,794.4 L1401.5,788.3 A24.2,9.8 0 0 0 1371.0,797.8 A24.2,9.8 0 0 0 1419.4,797.8 Z" fill="#fff" stroke="#000" stroke-width="1.1" stroke-linejoin="round"/>
<path d="M745.7,855.9 L745.7,861.9 A24.2,9.8 0 0 0 794.1,861.9 L794.1,855.9 A24.2,9.8 0 0 0 763.6,846.4 L747.2,852.5 A24.2,9.8 0 0 0 745.7,855.9 Z" fill="#fff" stroke="#000" stroke-width="1.1" stroke-linejoin="round"/>
<path d="M745.7,855.9 A24.2,9.8 0 0 1 747.2,852.5 L763.6,846.4 A24.2,9.8 0 0 1 794.1,855.9 A24.2,9.8 0 0 1 745.7,855.9 Z" fill="#fff" stroke="#000" stroke-width="1.1" stroke-linejoin="round"/>
<path d="M1318.7,855.9 L1318.7,861.9 A24.2,9.8 0 0 1 1270.3,861.9 L1270.3,855.9 A24.2,9.8 0 0 1 1300.8,846.4 L1317.2,852.5 A24.2,9.8 0 0 1 1318.7,855.9 Z" fill="#fff" stroke="#000" stroke-width="1.1" stroke-linejoin="round"/>
<path d="M1318.7,855.9 A24.2,9.8 0 0 0 1317.2,852.5 L1300.8,846.4 A24.2,9.8 0 0 0 1270.3,855.9 A24.2,9.8 0 0 0 1318.7,855.9 Z" fill="#fff" stroke="#000" stroke-width="1.1" stroke-linejoin="round"/>
<path d="M843.3,912.0 L843.3,918.0 A24.2,9.8 0 0 0 891.7,918.0 L891.7,912.0 A24.2,9.8 0 0 0 861.2,902.5 L844.8,908.6 A24.2,9.8 0 0 0 843.3,912.0 Z" fill="#fff" stroke="#000" stroke-width="1.1" stroke-linejoin="round"/>
<path d="M843.3,912.0 A24.2,9.8 0 0 1 844.8,908.6 L861.2,902.5 A24.2,9.8 0 0 1 891.7,912.0 A24.2,9.8 0 0 1 843.3,912.0 Z" fill="#fff" stroke="#000" stroke-width="1.1" stroke-linejoin="round"/>
<path d="M1221.1,912.0 L1221.1,918.0 A24.2,9.8 0 0 1 1172.7,918.0 L1172.7,912.0 A24.2,9.8 0 0 1 1203.2,902.5 L1219.6,908.6 A24.2,9.8 0 0 1 1221.1,912.0 Z" fill="#fff" stroke="#000" stroke-width="1.1" stroke-linejoin="round"/>
<path d="M1221.1,912.0 A24.2,9.8 0 0 0 1219.6,908.6 L1203.2,902.5 A24.2,9.8 0 0 0 1172.7,912.0 A24.2,9.8 0 0 0 1221.1,912.0 Z" fill="#fff" stroke="#000" stroke-width="1.1" stroke-linejoin="round"/>
<path d="M938.4,966.0 L938.4,972.0 A24.2,9.8 0 0 0 986.8,972.0 L986.8,966.0 A24.2,9.8 0 0 0 956.3,956.5 L939.9,962.6 A24.2,9.8 0 0 0 938.4,966.0 Z" fill="#fff" stroke="#000" stroke-width="1.1" stroke-linejoin="round"/>
<path d="M938.4,966.0 A24.2,9.8 0 0 1 939.9,962.6 L956.3,956.5 A24.2,9.8 0 0 1 986.8,966.0 A24.2,9.8 0 0 1 938.4,966.0 Z" fill="#fff" stroke="#000" stroke-width="1.1" stroke-linejoin="round"/>
<path d="M1126.0,966.0 L1126.0,972.0 A24.2,9.8 0 0 1 1077.6,972.0 L1077.6,966.0 A24.2,9.8 0 0 1 1108.1,956.5 L1124.5,962.6 A24.2,9.8 0 0 1 1126.0,966.0 Z" fill="#fff" stroke="#000" stroke-width="1.1" stroke-linejoin="round"/>
<path d="M1126.0,966.0 A24.2,9.8 0 0 0 1124.5,962.6 L1108.1,956.5 A24.2,9.8 0 0 0 1077.6,966.0 A24.2,9.8 0 0 0 1126.0,966.0 Z" fill="#fff" stroke="#000" stroke-width="1.1" stroke-linejoin="round"/>
<path d="M157.9,885.4 L688.1,1162.2 M165.6,881.5 L701.7,1162.2 M170.5,879.1 L710.4,1162.1 M175.4,876.7 L719.0,1162.1 M180.3,874.2 L727.6,1162.1 M185.2,871.8 L736.3,1162.0 M190.1,869.4 L744.9,1162.0 M195.0,866.9 L753.5,1162.0 M199.9,864.5 L762.2,1161.9 M204.8,862.1 L770.8,1161.9 M209.7,859.7 L779.4,1161.9 M214.6,857.2 L788.1,1161.8 M219.5,854.8 L796.7,1161.8 M224.4,852.4 L805.3,1161.8 M229.3,849.9 L814.0,1161.7 M234.2,847.5 L822.6,1161.7 M239.1,845.1 L831.2,1161.7 M244.0,842.6 L839.8,1161.7 M248.9,840.2 L848.5,1161.6 M253.8,837.8 L857.1,1161.6 M258.7,835.3 L865.7,1161.6 M263.6,832.9 L874.4,1161.5" fill="none" stroke="#000" stroke-width="1.2" stroke-linecap="butt"/>
<path d="M147.5,892.3 L651.8,1153.0 L669.9,1162.3" fill="none" stroke="#000" stroke-width="1.2" stroke-linejoin="round" stroke-linecap="round"/>
<path d="M270.4,832.8 L879.4,1158.5 L879.4,1174.6 L268.7,850.4 Z" fill="#fff" stroke="#000" stroke-width="1.2" stroke-linejoin="round" stroke-linecap="round"/>
<path d="M669.9,1162.3 L277.5,1391.0 M674.1,1162.3 L279.5,1392.0 M686.2,1162.2 L285.3,1394.9 M703.8,1162.2 L293.6,1399.1 M714.7,1162.1 L298.8,1401.7 M727.1,1162.1 L304.7,1404.7 M738.0,1162.0 L309.9,1407.3 M748.9,1162.0 L315.0,1409.9 M761.0,1162.0 L320.8,1412.8 M771.9,1161.9 L326.0,1415.4 M782.8,1161.9 L331.2,1418.0 M793.5,1161.8 L336.3,1420.6 M804.6,1161.8 L341.5,1423.2 M814.0,1161.7 L346.0,1425.5 M823.7,1161.7 L350.6,1427.8 M833.1,1161.7 L355.1,1430.0 M842.7,1161.6 L359.7,1432.3 M850.9,1161.6 L363.6,1434.3 M870.0,1161.5 L372.6,1438.8 M879.4,1161.5 L377.1,1441.1" fill="none" stroke="#000" stroke-width="1.2" stroke-linecap="butt"/>
<path d="M651.8,1153.0 L377.8,1315.0 L377.1,1330.5" fill="none" stroke="#000" stroke-width="1.2" stroke-linejoin="round" stroke-linecap="round"/>
<path d="M277.5,1390.0 L277.5,1393.2 L377.1,1441.1" fill="none" stroke="#000" stroke-width="1.2" stroke-linejoin="round" stroke-linecap="round"/>
<path d="M879.4,1158.5 L879.4,1174.6 L381.0,1461.0 L377.1,1458.0 L377.1,1441.1 Z" fill="#fff" stroke="#000" stroke-width="1.2" stroke-linejoin="round" stroke-linecap="round"/>
<path d="M669.9,1162.3 L858.0,1164.8" fill="none" stroke="#000" stroke-width="1.2" stroke-linejoin="round" stroke-linecap="round"/>
<path d="M876.5,1170.3 L379.2,1456.2" fill="none" stroke="#000" stroke-width="1.2" stroke-linejoin="round" stroke-linecap="round"/>
<path d="M272.5,889.8 L272.5,895.8 A22.4,9.5 0 0 1 227.7,895.8 L227.7,889.8 A22.4,9.5 0 0 1 250.9,880.3 L272.5,889.8 A22.4,9.5 0 0 1 272.5,889.8 Z" fill="#fff" stroke="#000" stroke-width="1.1" stroke-linejoin="round"/>
<path d="M272.5,889.8 A22.4,9.5 0 0 0 272.5,889.8 L250.9,880.3 A22.4,9.5 0 0 0 227.7,889.8 A22.4,9.5 0 0 0 272.5,889.8 Z" fill="#fff" stroke="#000" stroke-width="1.1" stroke-linejoin="round"/>
<path d="M378.7,943.5 L378.7,949.5 A22.4,9.5 0 0 1 333.9,949.5 L333.9,943.5 A22.4,9.5 0 0 1 357.1,934.0 L378.7,943.5 A22.4,9.5 0 0 1 378.7,943.5 Z" fill="#fff" stroke="#000" stroke-width="1.1" stroke-linejoin="round"/>
<path d="M378.7,943.5 A22.4,9.5 0 0 0 378.7,943.5 L357.1,934.0 A22.4,9.5 0 0 0 333.9,943.5 A22.4,9.5 0 0 0 378.7,943.5 Z" fill="#fff" stroke="#000" stroke-width="1.1" stroke-linejoin="round"/>
<path d="M481.4,994.8 L481.4,1000.8 A22.4,9.5 0 0 1 436.6,1000.8 L436.6,994.8 A22.4,9.5 0 0 1 459.8,985.3 L481.4,994.8 A22.4,9.5 0 0 1 481.4,994.8 Z" fill="#fff" stroke="#000" stroke-width="1.1" stroke-linejoin="round"/>
<path d="M481.4,994.8 A22.4,9.5 0 0 0 481.4,994.8 L459.8,985.3 A22.4,9.5 0 0 0 436.6,994.8 A22.4,9.5 0 0 0 481.4,994.8 Z" fill="#fff" stroke="#000" stroke-width="1.1" stroke-linejoin="round"/>
<path d="M579.2,1045.3 L579.2,1051.3 A22.4,9.5 0 0 1 534.4,1051.3 L534.4,1045.3 A22.4,9.5 0 0 1 557.6,1035.8 L579.2,1045.3 A22.4,9.5 0 0 1 579.2,1045.3 Z" fill="#fff" stroke="#000" stroke-width="1.1" stroke-linejoin="round"/>
<path d="M579.2,1045.3 A22.4,9.5 0 0 0 579.2,1045.3 L557.6,1035.8 A22.4,9.5 0 0 0 534.4,1045.3 A22.4,9.5 0 0 0 579.2,1045.3 Z" fill="#fff" stroke="#000" stroke-width="1.1" stroke-linejoin="round"/>
<path d="M677.9,1098.4 L677.9,1104.4 A22.4,9.5 0 0 1 633.1,1104.4 L633.1,1098.4 A22.4,9.5 0 0 1 656.3,1088.9 L677.9,1098.4 A22.4,9.5 0 0 1 677.9,1098.4 Z" fill="#fff" stroke="#000" stroke-width="1.1" stroke-linejoin="round"/>
<path d="M677.9,1098.4 A22.4,9.5 0 0 0 677.9,1098.4 L656.3,1088.9 A22.4,9.5 0 0 0 633.1,1098.4 A22.4,9.5 0 0 0 677.9,1098.4 Z" fill="#fff" stroke="#000" stroke-width="1.1" stroke-linejoin="round"/>
<path d="M767.2,1145.6 L767.2,1151.6 A22.4,9.5 0 0 1 722.4,1151.6 L722.4,1145.6 A22.4,9.5 0 0 1 745.6,1136.1 L767.2,1145.6 A22.4,9.5 0 0 1 767.2,1145.6 Z" fill="#fff" stroke="#000" stroke-width="1.1" stroke-linejoin="round"/>
<path d="M767.2,1145.6 A22.4,9.5 0 0 0 767.2,1145.6 L745.6,1136.1 A22.4,9.5 0 0 0 722.4,1145.6 A22.4,9.5 0 0 0 767.2,1145.6 Z" fill="#fff" stroke="#000" stroke-width="1.1" stroke-linejoin="round"/>
<path d="M711.0,1194.9 L711.0,1200.5 A21.6,9.2 0 0 0 754.2,1200.5 L754.2,1194.9 A21.6,9.2 0 0 0 731.8,1185.7 L711.0,1194.9 A21.6,9.2 0 0 0 711.0,1194.9 Z" fill="#fff" stroke="#000" stroke-width="1.1" stroke-linejoin="round"/>
<path d="M711.0,1194.9 A21.6,9.2 0 0 1 711.0,1194.9 L731.8,1185.7 A21.6,9.2 0 0 1 754.2,1194.9 A21.6,9.2 0 0 1 711.0,1194.9 Z" fill="#fff" stroke="#000" stroke-width="1.1" stroke-linejoin="round"/>
<path d="M614.4,1249.0 L614.4,1254.6 A21.6,9.2 0 0 0 657.6,1254.6 L657.6,1249.0 A21.6,9.2 0 0 0 635.2,1239.8 L614.4,1249.0 A21.6,9.2 0 0 0 614.4,1249.0 Z" fill="#fff" stroke="#000" stroke-width="1.1" stroke-linejoin="round"/>
<path d="M614.4,1249.0 A21.6,9.2 0 0 1 614.4,1249.0 L635.2,1239.8 A21.6,9.2 0 0 1 657.6,1249.0 A21.6,9.2 0 0 1 614.4,1249.0 Z" fill="#fff" stroke="#000" stroke-width="1.1" stroke-linejoin="round"/>
<path d="M527.9,1300.2 L527.9,1305.8 A21.6,9.2 0 0 0 571.1,1305.8 L571.1,1300.2 A21.6,9.2 0 0 0 548.7,1291.0 L527.9,1300.2 A21.6,9.2 0 0 0 527.9,1300.2 Z" fill="#fff" stroke="#000" stroke-width="1.1" stroke-linejoin="round"/>
<path d="M527.9,1300.2 A21.6,9.2 0 0 1 527.9,1300.2 L548.7,1291.0 A21.6,9.2 0 0 1 571.1,1300.2 A21.6,9.2 0 0 1 527.9,1300.2 Z" fill="#fff" stroke="#000" stroke-width="1.1" stroke-linejoin="round"/>
<path d="M431.2,1350.8 L431.2,1356.4 A21.6,9.2 0 0 0 474.4,1356.4 L474.4,1350.8 A21.6,9.2 0 0 0 452.0,1341.6 L431.2,1350.8 A21.6,9.2 0 0 0 431.2,1350.8 Z" fill="#fff" stroke="#000" stroke-width="1.1" stroke-linejoin="round"/>
<path d="M431.2,1350.8 A21.6,9.2 0 0 1 431.2,1350.8 L452.0,1341.6 A21.6,9.2 0 0 1 474.4,1350.8 A21.6,9.2 0 0 1 431.2,1350.8 Z" fill="#fff" stroke="#000" stroke-width="1.1" stroke-linejoin="round"/>
<path d="M345.2,1398.7 L345.2,1404.3 A21.6,9.2 0 0 0 388.4,1404.3 L388.4,1398.7 A21.6,9.2 0 0 0 366.0,1389.5 L345.2,1398.7 A21.6,9.2 0 0 0 345.2,1398.7 Z" fill="#fff" stroke="#000" stroke-width="1.1" stroke-linejoin="round"/>
<path d="M345.2,1398.7 A21.6,9.2 0 0 1 345.2,1398.7 L366.0,1389.5 A21.6,9.2 0 0 1 388.4,1398.7 A21.6,9.2 0 0 1 345.2,1398.7 Z" fill="#fff" stroke="#000" stroke-width="1.1" stroke-linejoin="round"/>
<path d="M1916.9,890.5 L622.9,1571.6 M1905.5,884.8 L612.3,1566.2 M1899.3,881.8 L607.6,1563.8 M1894.3,879.3 L601.5,1560.7 M1889.2,876.8 L597.6,1558.7 M1884.8,874.6 L591.9,1555.8 M1879.4,871.9 L587.5,1553.5 M1875.0,869.7 L581.8,1550.6 M1869.8,867.1 L577.9,1548.6 M1864.5,864.5 L572.2,1545.7 M1860.1,862.4 L568.1,1543.7 M1855.0,859.8 L561.5,1540.2 M1850.3,857.5 L558.2,1538.6 M1845.5,855.1 L551.5,1535.2 M1840.5,852.6 L548.1,1533.4 M1835.5,850.1 L542.7,1530.7 M1830.5,847.7 L537.5,1528.0" fill="none" stroke="#000" stroke-width="1.2" stroke-linecap="butt"/>
<path d="M513.4,1515.7 L623.2,1571.8 L623.2,1573.2" fill="none" stroke="#000" stroke-width="1.2" stroke-linejoin="round" stroke-linecap="round"/>
<path d="M1825.5,845.2 L518.8,1530.8" fill="none" stroke="#000" stroke-width="1.2" stroke-linejoin="round" stroke-linecap="round"/>
<path d="M1794.0,832.8 L513.4,1515.5 L514.6,1528.2 L1796.0,848.5 Z" fill="#fff" stroke="#000" stroke-width="1.2" stroke-linejoin="round" stroke-linecap="round"/>
<path d="M514.6,1528.2 L518.8,1530.8" fill="none" stroke="#000" stroke-width="1.2" stroke-linejoin="round" stroke-linecap="round"/>
<path d="M1834.1,889.3 L1834.1,894.9 A21.8,9.0 0 0 1 1790.5,894.9 L1790.5,889.3 A21.8,9.0 0 0 1 1813.1,880.3 L1834.1,889.3 A21.8,9.0 0 0 1 1834.1,889.3 Z" fill="#fff" stroke="#000" stroke-width="1.1" stroke-linejoin="round"/>
<path d="M1834.1,889.3 A21.8,9.0 0 0 0 1834.1,889.3 L1813.1,880.3 A21.8,9.0 0 0 0 1790.5,889.3 A21.8,9.0 0 0 0 1834.1,889.3 Z" fill="#fff" stroke="#000" stroke-width="1.1" stroke-linejoin="round"/>
<path d="M1726.7,945.0 L1726.7,950.6 A21.8,9.0 0 0 1 1683.1,950.6 L1683.1,945.0 A21.8,9.0 0 0 1 1705.7,936.0 L1726.7,945.0 A21.8,9.0 0 0 1 1726.7,945.0 Z" fill="#fff" stroke="#000" stroke-width="1.1" stroke-linejoin="round"/>
<path d="M1726.7,945.0 A21.8,9.0 0 0 0 1726.7,945.0 L1705.7,936.0 A21.8,9.0 0 0 0 1683.1,945.0 A21.8,9.0 0 0 0 1726.7,945.0 Z" fill="#fff" stroke="#000" stroke-width="1.1" stroke-linejoin="round"/>
<path d="M1626.9,998.2 L1626.9,1003.8 A21.8,9.0 0 0 1 1583.3,1003.8 L1583.3,998.2 A21.8,9.0 0 0 1 1605.9,989.2 L1626.9,998.2 A21.8,9.0 0 0 1 1626.9,998.2 Z" fill="#fff" stroke="#000" stroke-width="1.1" stroke-linejoin="round"/>
<path d="M1626.9,998.2 A21.8,9.0 0 0 0 1626.9,998.2 L1605.9,989.2 A21.8,9.0 0 0 0 1583.3,998.2 A21.8,9.0 0 0 0 1626.9,998.2 Z" fill="#fff" stroke="#000" stroke-width="1.1" stroke-linejoin="round"/>
<path d="M1532.8,1051.3 L1532.8,1056.9 A21.8,9.0 0 0 1 1489.2,1056.9 L1489.2,1051.3 A21.8,9.0 0 0 1 1511.8,1042.3 L1532.8,1051.3 A21.8,9.0 0 0 1 1532.8,1051.3 Z" fill="#fff" stroke="#000" stroke-width="1.1" stroke-linejoin="round"/>
<path d="M1532.8,1051.3 A21.8,9.0 0 0 0 1532.8,1051.3 L1511.8,1042.3 A21.8,9.0 0 0 0 1489.2,1051.3 A21.8,9.0 0 0 0 1532.8,1051.3 Z" fill="#fff" stroke="#000" stroke-width="1.1" stroke-linejoin="round"/>
<path d="M1435.0,1098.8 L1435.0,1104.4 A21.8,9.0 0 0 1 1391.4,1104.4 L1391.4,1098.8 A21.8,9.0 0 0 1 1414.0,1089.8 L1435.0,1098.8 A21.8,9.0 0 0 1 1435.0,1098.8 Z" fill="#fff" stroke="#000" stroke-width="1.1" stroke-linejoin="round"/>
<path d="M1435.0,1098.8 A21.8,9.0 0 0 0 1435.0,1098.8 L1414.0,1089.8 A21.8,9.0 0 0 0 1391.4,1098.8 A21.8,9.0 0 0 0 1435.0,1098.8 Z" fill="#fff" stroke="#000" stroke-width="1.1" stroke-linejoin="round"/>
<path d="M1337.2,1147.3 L1337.2,1152.9 A21.8,9.0 0 0 1 1293.6,1152.9 L1293.6,1147.3 A21.8,9.0 0 0 1 1316.2,1138.3 L1337.2,1147.3 A21.8,9.0 0 0 1 1337.2,1147.3 Z" fill="#fff" stroke="#000" stroke-width="1.1" stroke-linejoin="round"/>
<path d="M1337.2,1147.3 A21.8,9.0 0 0 0 1337.2,1147.3 L1316.2,1138.3 A21.8,9.0 0 0 0 1293.6,1147.3 A21.8,9.0 0 0 0 1337.2,1147.3 Z" fill="#fff" stroke="#000" stroke-width="1.1" stroke-linejoin="round"/>
<path d="M1242.9,1197.8 L1242.9,1203.4 A21.8,9.0 0 0 1 1199.3,1203.4 L1199.3,1197.8 A21.8,9.0 0 0 1 1221.9,1188.8 L1242.9,1197.8 A21.8,9.0 0 0 1 1242.9,1197.8 Z" fill="#fff" stroke="#000" stroke-width="1.1" stroke-linejoin="round"/>
<path d="M1242.9,1197.8 A21.8,9.0 0 0 0 1242.9,1197.8 L1221.9,1188.8 A21.8,9.0 0 0 0 1199.3,1197.8 A21.8,9.0 0 0 0 1242.9,1197.8 Z" fill="#fff" stroke="#000" stroke-width="1.1" stroke-linejoin="round"/>
<path d="M1152.3,1247.2 L1152.3,1252.8 A21.8,9.0 0 0 1 1108.7,1252.8 L1108.7,1247.2 A21.8,9.0 0 0 1 1131.3,1238.2 L1152.3,1247.2 A21.8,9.0 0 0 1 1152.3,1247.2 Z" fill="#fff" stroke="#000" stroke-width="1.1" stroke-linejoin="round"/>
<path d="M1152.3,1247.2 A21.8,9.0 0 0 0 1152.3,1247.2 L1131.3,1238.2 A21.8,9.0 0 0 0 1108.7,1247.2 A21.8,9.0 0 0 0 1152.3,1247.2 Z" fill="#fff" stroke="#000" stroke-width="1.1" stroke-linejoin="round"/>
<path d="M1059.9,1297.4 L1059.9,1303.0 A21.8,9.0 0 0 1 1016.3,1303.0 L1016.3,1297.4 A21.8,9.0 0 0 1 1038.9,1288.4 L1059.9,1297.4 A21.8,9.0 0 0 1 1059.9,1297.4 Z" fill="#fff" stroke="#000" stroke-width="1.1" stroke-linejoin="round"/>
<path d="M1059.9,1297.4 A21.8,9.0 0 0 0 1059.9,1297.4 L1038.9,1288.4 A21.8,9.0 0 0 0 1016.3,1297.4 A21.8,9.0 0 0 0 1059.9,1297.4 Z" fill="#fff" stroke="#000" stroke-width="1.1" stroke-linejoin="round"/>
<path d="M968.6,1345.8 L968.6,1351.4 A21.8,9.0 0 0 1 925.0,1351.4 L925.0,1345.8 A21.8,9.0 0 0 1 947.6,1336.8 L968.6,1345.8 A21.8,9.0 0 0 1 968.6,1345.8 Z" fill="#fff" stroke="#000" stroke-width="1.1" stroke-linejoin="round"/>
<path d="M968.6,1345.8 A21.8,9.0 0 0 0 968.6,1345.8 L947.6,1336.8 A21.8,9.0 0 0 0 925.0,1345.8 A21.8,9.0 0 0 0 968.6,1345.8 Z" fill="#fff" stroke="#000" stroke-width="1.1" stroke-linejoin="round"/>
<path d="M880.1,1391.5 L880.1,1397.1 A21.8,9.0 0 0 1 836.5,1397.1 L836.5,1391.5 A21.8,9.0 0 0 1 859.1,1382.5 L880.1,1391.5 A21.8,9.0 0 0 1 880.1,1391.5 Z" fill="#fff" stroke="#000" stroke-width="1.1" stroke-linejoin="round"/>
<path d="M880.1,1391.5 A21.8,9.0 0 0 0 880.1,1391.5 L859.1,1382.5 A21.8,9.0 0 0 0 836.5,1391.5 A21.8,9.0 0 0 0 880.1,1391.5 Z" fill="#fff" stroke="#000" stroke-width="1.1" stroke-linejoin="round"/>
<path d="M792.8,1438.2 L792.8,1443.8 A21.8,9.0 0 0 1 749.2,1443.8 L749.2,1438.2 A21.8,9.0 0 0 1 771.8,1429.2 L792.8,1438.2 A21.8,9.0 0 0 1 792.8,1438.2 Z" fill="#fff" stroke="#000" stroke-width="1.1" stroke-linejoin="round"/>
<path d="M792.8,1438.2 A21.8,9.0 0 0 0 792.8,1438.2 L771.8,1429.2 A21.8,9.0 0 0 0 749.2,1438.2 A21.8,9.0 0 0 0 792.8,1438.2 Z" fill="#fff" stroke="#000" stroke-width="1.1" stroke-linejoin="round"/>
<path d="M709.9,1481.6 L709.9,1487.2 A21.8,9.0 0 0 1 666.3,1487.2 L666.3,1481.6 A21.8,9.0 0 0 1 688.9,1472.6 L709.9,1481.6 A21.8,9.0 0 0 1 709.9,1481.6 Z" fill="#fff" stroke="#000" stroke-width="1.1" stroke-linejoin="round"/>
<path d="M709.9,1481.6 A21.8,9.0 0 0 0 709.9,1481.6 L688.9,1472.6 A21.8,9.0 0 0 0 666.3,1481.6 A21.8,9.0 0 0 0 709.9,1481.6 Z" fill="#fff" stroke="#000" stroke-width="1.1" stroke-linejoin="round"/>
<path d="M636.1,1521.9 L636.1,1527.5 A21.8,9.0 0 0 1 592.5,1527.5 L592.5,1521.9 A21.8,9.0 0 0 1 615.1,1512.9 L636.1,1521.9 A21.8,9.0 0 0 1 636.1,1521.9 Z" fill="#fff" stroke="#000" stroke-width="1.1" stroke-linejoin="round"/>
<path d="M636.1,1521.9 A21.8,9.0 0 0 0 636.1,1521.9 L615.1,1512.9 A21.8,9.0 0 0 0 592.5,1521.9 A21.8,9.0 0 0 0 636.1,1521.9 Z" fill="#fff" stroke="#000" stroke-width="1.1" stroke-linejoin="round"/>
<path d="M277.7,690.8 L321.5,715.9" fill="none" stroke="#000" stroke-width="1.2" stroke-linejoin="round" stroke-linecap="round"/>
<path d="M277.7,694.8 L320.9,719.5" fill="none" stroke="#000" stroke-width="1.2" stroke-linejoin="round" stroke-linecap="round"/>
<path d="M277.7,699.1 L316.8,721.5" fill="none" stroke="#000" stroke-width="1.2" stroke-linejoin="round" stroke-linecap="round"/>
<path d="M277.7,703.1 L313.0,723.3" fill="none" stroke="#000" stroke-width="1.2" stroke-linejoin="round" stroke-linecap="round"/>
<path d="M277.7,707.4 L308.9,725.2" fill="none" stroke="#000" stroke-width="1.2" stroke-linejoin="round" stroke-linecap="round"/>
<path d="M277.7,711.4 L305.1,727.1" fill="none" stroke="#000" stroke-width="1.2" stroke-linejoin="round" stroke-linecap="round"/>
<path d="M277.7,715.7 L301.0,729.0" fill="none" stroke="#000" stroke-width="1.2" stroke-linejoin="round" stroke-linecap="round"/>
<path d="M277.7,719.7 L297.2,730.8" fill="none" stroke="#000" stroke-width="1.2" stroke-linejoin="round" stroke-linecap="round"/>
<path d="M277.7,724.0 L293.1,732.8" fill="none" stroke="#000" stroke-width="1.2" stroke-linejoin="round" stroke-linecap="round"/>
<path d="M277.7,728.0 L289.3,734.6" fill="none" stroke="#000" stroke-width="1.2" stroke-linejoin="round" stroke-linecap="round"/>
<path d="M277.7,733.3 L284.2,737.0" fill="none" stroke="#000" stroke-width="1.2" stroke-linejoin="round" stroke-linecap="round"/>
<path d="M277.7,737.3 L280.4,738.8" fill="none" stroke="#000" stroke-width="1.2" stroke-linejoin="round" stroke-linecap="round"/>
<path d="M277.5,739.2 L391.0,685.2 L391.0,690.3 L277.5,744.4 Z" fill="#000" stroke="#000" stroke-width="0.5" stroke-linejoin="round" stroke-linecap="round"/>
<path d="M321.6,703.5 L323.8,701.5 L326.0,703.5 L326.0,719.5 L321.6,721.5 Z" fill="#000" stroke="#000" stroke-width="0.5" stroke-linejoin="round" stroke-linecap="round"/>
<path d="M333.2,714.5 L333.2,697.6 L342.0,693.0" fill="none" stroke="#000" stroke-width="3.3" stroke-linejoin="miter" stroke-linecap="butt"/>
<path d="M342.0,692.6 L345.2,694.3 L336.9,698.8" fill="none" stroke="#000" stroke-width="1.4" stroke-linejoin="round" stroke-linecap="round"/>
<path d="M341.8,692.8 L353.0,699.3" fill="none" stroke="#000" stroke-width="1.2" stroke-linejoin="round" stroke-linecap="round"/>
<path d="M345.0,694.4 L356.0,700.8" fill="none" stroke="#000" stroke-width="1.2" stroke-linejoin="round" stroke-linecap="round"/>
<path d="M336.8,699.0 L346.5,704.6" fill="none" stroke="#000" stroke-width="1.2" stroke-linejoin="round" stroke-linecap="round"/>
<path d="M363.9,684.0 L365.0,680.2 L371.6,682.4 L371.6,694.8" fill="none" stroke="#000" stroke-width="3.3" stroke-linejoin="miter" stroke-linecap="butt"/>
<path d="M379.0,686.0 L384.0,683.5 L388.0,686.0 L388.0,690.5 L379.0,694.5 Z" fill="#000" stroke="#000" stroke-width="0.5" stroke-linejoin="round" stroke-linecap="round"/>
<path d="M283.9,744.2 L352.7,782.9" fill="none" stroke="#000" stroke-width="1.2" stroke-linejoin="round" stroke-linecap="round"/>
<path d="M280.8,755.6 L341.6,788.6" fill="none" stroke="#000" stroke-width="1.2" stroke-linejoin="round" stroke-linecap="round"/>
<path d="M282.9,757.7 L340.8,789.0" fill="none" stroke="#000" stroke-width="1.2" stroke-linejoin="round" stroke-linecap="round"/>
<path d="M281.8,779.2 L319.1,800.0" fill="none" stroke="#000" stroke-width="1.2" stroke-linejoin="round" stroke-linecap="round"/>
<path d="M280.7,788.3 L308.9,805.2" fill="none" stroke="#000" stroke-width="1.2" stroke-linejoin="round" stroke-linecap="round"/>
<path d="M279.0,800.9 L297.3,811.1" fill="none" stroke="#000" stroke-width="1.2" stroke-linejoin="round" stroke-linecap="round"/>
<path d="M280.3,742.5 L280.5,756.3" fill="none" stroke="#000" stroke-width="2.6" stroke-linejoin="round" stroke-linecap="round"/>
<path d="M269.9,792.9 L280.7,788.3 L280.7,778.7" fill="none" stroke="#000" stroke-width="1.6" stroke-linejoin="round" stroke-linecap="round"/>
<ellipse cx="320.6" cy="789.3" rx="3.2" ry="6.4" fill="none" stroke="#000" stroke-width="1.3"/>
<ellipse cx="320.0" cy="789.3" rx="2.0" ry="5.4" fill="none" stroke="#000" stroke-width="0.9"/>
<path d="M277.0,800.5 L279.8,800.0 L280.0,823.0 L271.5,826.0 L273.0,814.0 L275.0,806.0 Z" fill="#000" stroke="#000" stroke-width="0.5" stroke-linejoin="round" stroke-linecap="round"/>
<path d="M147.5,886.6 L564.0,676.0 L565.0,680.2 L147.5,892.4 Z" fill="#000" stroke="#000" stroke-width="0.6" stroke-linejoin="round" stroke-linecap="round"/>
<path d="M264.6,786.0 L268.6,786.0 L269.0,818.0 L271.2,827.0 L270.2,838.0 L267.0,852.6 L264.6,853.0 L263.2,850.0 L262.3,832.0 L263.6,818.0 Z" fill="#000" stroke="#000" stroke-width="0.6" stroke-linejoin="round" stroke-linecap="round"/>
<path d="M149.3,676.0 L150.3,672.0 L155.5,669.5 L158.0,670.3 L267.6,735.5 L280.2,742.4 L280.6,788.2 L277.7,787.9 L275.6,789.6 L265.3,785.0 L149.8,718.0 L148.9,714.0 Z" fill="#fff" stroke="#000" stroke-width="0.0" stroke-linejoin="round" stroke-linecap="round"/>
<path d="M267.3,735.4 L158.0,670.2 L155.5,669.5 L150.3,672.0 L149.3,676.0 L148.9,714.0 L149.8,718.0 L265.3,784.8 L275.6,789.4 L277.7,787.7" fill="none" stroke="#000" stroke-width="1.6" stroke-linejoin="round" stroke-linecap="round"/>
<path d="M154.2,671.8 L152.6,716.2 L277.7,787.7" fill="none" stroke="#000" stroke-width="1.6" stroke-linejoin="round" stroke-linecap="round"/>
<ellipse cx="183.5" cy="708.0" rx="3.2" ry="6.4" fill="none" stroke="#000" stroke-width="1.3"/>
<ellipse cx="182.9" cy="708.0" rx="2.0" ry="5.4" fill="none" stroke="#000" stroke-width="0.9"/>
<ellipse cx="233.2" cy="738.0" rx="3.2" ry="6.4" fill="none" stroke="#000" stroke-width="1.3"/>
<ellipse cx="232.6" cy="738.0" rx="2.0" ry="5.4" fill="none" stroke="#000" stroke-width="0.9"/>
<path d="M267.3,689.0 L269.8,686.8 L272.0,688.4 L270.6,737.0 L265.2,734.3 Z" fill="#000" stroke="#000" stroke-width="0.5" stroke-linejoin="round" stroke-linecap="round"/>
<path d="M270.5,688.8 L278.2,691.5 L278.2,694.7 L270.5,695.3 Z" fill="#000" stroke="#000" stroke-width="0.4" stroke-linejoin="round" stroke-linecap="round"/>
<path d="M270.5,697.1 L278.2,699.8 L278.2,703.0 L270.5,703.6 Z" fill="#000" stroke="#000" stroke-width="0.4" stroke-linejoin="round" stroke-linecap="round"/>
<path d="M270.5,705.4 L278.2,708.1 L278.2,711.3 L270.5,711.9 Z" fill="#000" stroke="#000" stroke-width="0.4" stroke-linejoin="round" stroke-linecap="round"/>
<path d="M270.5,713.7 L278.2,716.4 L278.2,719.6 L270.5,720.2 Z" fill="#000" stroke="#000" stroke-width="0.4" stroke-linejoin="round" stroke-linecap="round"/>
<path d="M270.5,722.0 L278.2,724.7 L278.2,727.9 L270.5,728.5 Z" fill="#000" stroke="#000" stroke-width="0.4" stroke-linejoin="round" stroke-linecap="round"/>
<path d="M270.5,731.3 L278.2,734.0 L278.2,737.2 L270.5,737.8 Z" fill="#000" stroke="#000" stroke-width="0.4" stroke-linejoin="round" stroke-linecap="round"/>
<path d="M438.2,598.6 L440.6,596.6 L442.6,598.0 L442.6,746.0 L438.2,748.0 Z" fill="#000" stroke="#000" stroke-width="0.5" stroke-linejoin="round" stroke-linecap="round"/>
<path d="M438.5,605.9 L433.0,610.9 L434.6,613.5 L438.5,612.3" fill="none" stroke="#000" stroke-width="2.0" stroke-linejoin="round" stroke-linecap="round"/>
<path d="M438.5,615.2 L433.0,620.2 L434.6,622.8 L438.5,621.6" fill="none" stroke="#000" stroke-width="2.0" stroke-linejoin="round" stroke-linecap="round"/>
<path d="M438.5,625.5 L433.0,630.5 L434.6,633.1 L438.5,631.9" fill="none" stroke="#000" stroke-width="2.0" stroke-linejoin="round" stroke-linecap="round"/>
<path d="M438.5,635.9 L433.0,640.9 L434.6,643.5 L438.5,642.3" fill="none" stroke="#000" stroke-width="2.0" stroke-linejoin="round" stroke-linecap="round"/>
<path d="M438.5,646.3 L433.0,651.3 L434.6,653.9 L438.5,652.7" fill="none" stroke="#000" stroke-width="2.0" stroke-linejoin="round" stroke-linecap="round"/>
<path d="M438.5,657.5 L432.5,662.0 L434.0,665.0 L438.5,664.0" fill="none" stroke="#000" stroke-width="2.0" stroke-linejoin="round" stroke-linecap="round"/>
<path d="M433.0,662.5 L428.0,660.0 L426.6,662.2 L437.0,668.3" fill="none" stroke="#000" stroke-width="1.8" stroke-linejoin="round" stroke-linecap="round"/>
<path d="M433.2,742.0 L442.8,742.0 L442.6,760.0 L437.3,767.6 L433.8,765.6 Z" fill="#000" stroke="#000" stroke-width="0.6" stroke-linejoin="round" stroke-linecap="round"/>
<path d="M424.8,728.0 L427.6,725.8 L431.0,728.0 L433.4,744.0 L431.0,751.5 L425.2,754.0 Z" fill="#000" stroke="#000" stroke-width="0.5" stroke-linejoin="round" stroke-linecap="round"/>
<path d="M429.5,733.0 L432.5,736.0 L432.5,744.0 L435.0,746.0" fill="none" stroke="#000" stroke-width="1.4" stroke-linejoin="round" stroke-linecap="round"/>
<path d="M437.5,708.8 L424.0,712.0 L424.0,716.8 L437.5,724.2" fill="none" stroke="#000" stroke-width="1.6" stroke-linejoin="round" stroke-linecap="round"/>
<path d="M424.0,716.8 L437.5,713.6" fill="none" stroke="#000" stroke-width="1.4" stroke-linejoin="round" stroke-linecap="round"/>
<path d="M304.0,598.5 L305.0,594.5 L310.2,592.2 L312.8,593.0 L438.0,668.3 L438.0,709.0 L428.7,711.7 L425.6,713.7 L304.6,640.6 L303.7,637.0 Z" fill="#fff" stroke="#000" stroke-width="0.0" stroke-linejoin="round" stroke-linecap="round"/>
<path d="M438.0,668.3 L312.8,593.0 L310.2,592.2 L305.0,594.5 L304.0,598.5 L303.7,637.0 L304.6,640.6 L425.6,713.7 L428.7,711.5" fill="none" stroke="#000" stroke-width="1.6" stroke-linejoin="round" stroke-linecap="round"/>
<path d="M308.8,594.2 L307.2,638.2 L428.7,711.5" fill="none" stroke="#000" stroke-width="1.6" stroke-linejoin="round" stroke-linecap="round"/>
<ellipse cx="338.1" cy="630.7" rx="3.2" ry="6.4" fill="none" stroke="#000" stroke-width="1.3"/>
<ellipse cx="337.5" cy="630.7" rx="2.0" ry="5.4" fill="none" stroke="#000" stroke-width="0.9"/>
<ellipse cx="387.6" cy="661.0" rx="3.2" ry="6.4" fill="none" stroke="#000" stroke-width="1.3"/>
<ellipse cx="387.0" cy="661.0" rx="2.0" ry="5.4" fill="none" stroke="#000" stroke-width="0.9"/>
<path d="M1786.7,690.8 L1742.9,715.9" fill="none" stroke="#000" stroke-width="1.2" stroke-linejoin="round" stroke-linecap="round"/>
<path d="M1786.7,694.8 L1743.5,719.5" fill="none" stroke="#000" stroke-width="1.2" stroke-linejoin="round" stroke-linecap="round"/>
<path d="M1786.7,699.1 L1747.6,721.5" fill="none" stroke="#000" stroke-width="1.2" stroke-linejoin="round" stroke-linecap="round"/>
<path d="M1786.7,703.1 L1751.4,723.3" fill="none" stroke="#000" stroke-width="1.2" stroke-linejoin="round" stroke-linecap="round"/>
<path d="M1786.7,707.4 L1755.5,725.2" fill="none" stroke="#000" stroke-width="1.2" stroke-linejoin="round" stroke-linecap="round"/>
<path d="M1786.7,711.4 L1759.3,727.1" fill="none" stroke="#000" stroke-width="1.2" stroke-linejoin="round" stroke-linecap="round"/>
<path d="M1786.7,715.7 L1763.4,729.0" fill="none" stroke="#000" stroke-width="1.2" stroke-linejoin="round" stroke-linecap="round"/>
<path d="M1786.7,719.7 L1767.2,730.8" fill="none" stroke="#000" stroke-width="1.2" stroke-linejoin="round" stroke-linecap="round"/>
<path d="M1786.7,724.0 L1771.3,732.8" fill="none" stroke="#000" stroke-width="1.2" stroke-linejoin="round" stroke-linecap="round"/>
<path d="M1786.7,728.0 L1775.1,734.6" fill="none" stroke="#000" stroke-width="1.2" stroke-linejoin="round" stroke-linecap="round"/>
<path d="M1786.7,733.3 L1780.2,737.0" fill="none" stroke="#000" stroke-width="1.2" stroke-linejoin="round" stroke-linecap="round"/>
<path d="M1786.7,737.3 L1784.0,738.8" fill="none" stroke="#000" stroke-width="1.2" stroke-linejoin="round" stroke-linecap="round"/>
<path d="M1786.9,739.2 L1673.4,685.2 L1673.4,690.3 L1786.9,744.4 Z" fill="#000" stroke="#000" stroke-width="0.5" stroke-linejoin="round" stroke-linecap="round"/>
<path d="M1742.8,703.5 L1740.6,701.5 L1738.4,703.5 L1738.4,719.5 L1742.8,721.5 Z" fill="#000" stroke="#000" stroke-width="0.5" stroke-linejoin="round" stroke-linecap="round"/>
<path d="M1731.2,714.5 L1731.2,697.6 L1722.4,693.0" fill="none" stroke="#000" stroke-width="3.3" stroke-linejoin="miter" stroke-linecap="butt"/>
<path d="M1722.4,692.6 L1719.2,694.3 L1727.5,698.8" fill="none" stroke="#000" stroke-width="1.4" stroke-linejoin="round" stroke-linecap="round"/>
<path d="M1722.6,692.8 L1711.4,699.3" fill="none" stroke="#000" stroke-width="1.2" stroke-linejoin="round" stroke-linecap="round"/>
<path d="M1719.4,694.4 L1708.4,700.8" fill="none" stroke="#000" stroke-width="1.2" stroke-linejoin="round" stroke-linecap="round"/>
<path d="M1727.6,699.0 L1717.9,704.6" fill="none" stroke="#000" stroke-width="1.2" stroke-linejoin="round" stroke-linecap="round"/>
<path d="M1700.5,684.0 L1699.4,680.2 L1692.8,682.4 L1692.8,694.8" fill="none" stroke="#000" stroke-width="3.3" stroke-linejoin="miter" stroke-linecap="butt"/>
<path d="M1685.4,686.0 L1680.4,683.5 L1676.4,686.0 L1676.4,690.5 L1685.4,694.5 Z" fill="#000" stroke="#000" stroke-width="0.5" stroke-linejoin="round" stroke-linecap="round"/>
<path d="M1780.5,744.2 L1711.7,782.9" fill="none" stroke="#000" stroke-width="1.2" stroke-linejoin="round" stroke-linecap="round"/>
<path d="M1783.6,755.6 L1722.8,788.6" fill="none" stroke="#000" stroke-width="1.2" stroke-linejoin="round" stroke-linecap="round"/>
<path d="M1781.5,757.7 L1723.6,789.0" fill="none" stroke="#000" stroke-width="1.2" stroke-linejoin="round" stroke-linecap="round"/>
<path d="M1782.6,779.2 L1745.3,800.0" fill="none" stroke="#000" stroke-width="1.2" stroke-linejoin="round" stroke-linecap="round"/>
<path d="M1783.7,788.3 L1755.5,805.2" fill="none" stroke="#000" stroke-width="1.2" stroke-linejoin="round" stroke-linecap="round"/>
<path d="M1785.4,800.9 L1767.1,811.1" fill="none" stroke="#000" stroke-width="1.2" stroke-linejoin="round" stroke-linecap="round"/>
<path d="M1784.1,742.5 L1783.9,756.3" fill="none" stroke="#000" stroke-width="2.6" stroke-linejoin="round" stroke-linecap="round"/>
<path d="M1794.5,792.9 L1783.7,788.3 L1783.7,778.7" fill="none" stroke="#000" stroke-width="1.6" stroke-linejoin="round" stroke-linecap="round"/>
<ellipse cx="1743.8" cy="789.3" rx="3.2" ry="6.4" fill="none" stroke="#000" stroke-width="1.3"/>
<ellipse cx="1744.4" cy="789.3" rx="2.0" ry="5.4" fill="none" stroke="#000" stroke-width="0.9"/>
<path d="M1787.4,800.5 L1784.6,800.0 L1784.4,823.0 L1792.9,826.0 L1791.4,814.0 L1789.4,806.0 Z" fill="#000" stroke="#000" stroke-width="0.5" stroke-linejoin="round" stroke-linecap="round"/>
<path d="M1916.9,886.6 L1500.4,676.0 L1499.4,680.2 L1916.9,892.4 Z" fill="#000" stroke="#000" stroke-width="0.6" stroke-linejoin="round" stroke-linecap="round"/>
<path d="M1799.8,786.0 L1795.8,786.0 L1795.4,818.0 L1793.2,827.0 L1794.2,838.0 L1797.4,852.6 L1799.8,853.0 L1801.2,850.0 L1802.1,832.0 L1800.8,818.0 Z" fill="#000" stroke="#000" stroke-width="0.6" stroke-linejoin="round" stroke-linecap="round"/>
<path d="M1915.1,676.0 L1914.1,672.0 L1908.9,669.5 L1906.4,670.3 L1796.8,735.5 L1784.2,742.4 L1783.8,788.2 L1786.7,787.9 L1788.8,789.6 L1799.1,785.0 L1914.6,718.0 L1915.5,714.0 Z" fill="#fff" stroke="#000" stroke-width="0.0" stroke-linejoin="round" stroke-linecap="round"/>
<path d="M1797.1,735.4 L1906.4,670.2 L1908.9,669.5 L1914.1,672.0 L1915.1,676.0 L1915.5,714.0 L1914.6,718.0 L1799.1,784.8 L1788.8,789.4 L1786.7,787.7" fill="none" stroke="#000" stroke-width="1.6" stroke-linejoin="round" stroke-linecap="round"/>
<path d="M1910.2,671.8 L1911.8,716.2 L1786.7,787.7" fill="none" stroke="#000" stroke-width="1.6" stroke-linejoin="round" stroke-linecap="round"/>
<ellipse cx="1880.9" cy="708.0" rx="3.2" ry="6.4" fill="none" stroke="#000" stroke-width="1.3"/>
<ellipse cx="1881.5" cy="708.0" rx="2.0" ry="5.4" fill="none" stroke="#000" stroke-width="0.9"/>
<ellipse cx="1831.2" cy="738.0" rx="3.2" ry="6.4" fill="none" stroke="#000" stroke-width="1.3"/>
<ellipse cx="1831.8" cy="738.0" rx="2.0" ry="5.4" fill="none" stroke="#000" stroke-width="0.9"/>
<path d="M1797.1,689.0 L1794.6,686.8 L1792.4,688.4 L1793.8,737.0 L1799.2,734.3 Z" fill="#000" stroke="#000" stroke-width="0.5" stroke-linejoin="round" stroke-linecap="round"/>
<path d="M1793.9,688.8 L1786.2,691.5 L1786.2,694.7 L1793.9,695.3 Z" fill="#000" stroke="#000" stroke-width="0.4" stroke-linejoin="round" stroke-linecap="round"/>
<path d="M1793.9,697.1 L1786.2,699.8 L1786.2,703.0 L1793.9,703.6 Z" fill="#000" stroke="#000" stroke-width="0.4" stroke-linejoin="round" stroke-linecap="round"/>
<path d="M1793.9,705.4 L1786.2,708.1 L1786.2,711.3 L1793.9,711.9 Z" fill="#000" stroke="#000" stroke-width="0.4" stroke-linejoin="round" stroke-linecap="round"/>
<path d="M1793.9,713.7 L1786.2,716.4 L1786.2,719.6 L1793.9,720.2 Z" fill="#000" stroke="#000" stroke-width="0.4" stroke-linejoin="round" stroke-linecap="round"/>
<path d="M1793.9,722.0 L1786.2,724.7 L1786.2,727.9 L1793.9,728.5 Z" fill="#000" stroke="#000" stroke-width="0.4" stroke-linejoin="round" stroke-linecap="round"/>
<path d="M1793.9,731.3 L1786.2,734.0 L1786.2,737.2 L1793.9,737.8 Z" fill="#000" stroke="#000" stroke-width="0.4" stroke-linejoin="round" stroke-linecap="round"/>
<path d="M1626.2,598.6 L1623.8,596.6 L1621.8,598.0 L1621.8,746.0 L1626.2,748.0 Z" fill="#000" stroke="#000" stroke-width="0.5" stroke-linejoin="round" stroke-linecap="round"/>
<path d="M1625.9,605.9 L1631.4,610.9 L1629.8,613.5 L1625.9,612.3" fill="none" stroke="#000" stroke-width="2.0" stroke-linejoin="round" stroke-linecap="round"/>
<path d="M1625.9,615.2 L1631.4,620.2 L1629.8,622.8 L1625.9,621.6" fill="none" stroke="#000" stroke-width="2.0" stroke-linejoin="round" stroke-linecap="round"/>
<path d="M1625.9,625.5 L1631.4,630.5 L1629.8,633.1 L1625.9,631.9" fill="none" stroke="#000" stroke-width="2.0" stroke-linejoin="round" stroke-linecap="round"/>
<path d="M1625.9,635.9 L1631.4,640.9 L1629.8,643.5 L1625.9,642.3" fill="none" stroke="#000" stroke-width="2.0" stroke-linejoin="round" stroke-linecap="round"/>
<path d="M1625.9,646.3 L1631.4,651.3 L1629.8,653.9 L1625.9,652.7" fill="none" stroke="#000" stroke-width="2.0" stroke-linejoin="round" stroke-linecap="round"/>
<path d="M1625.9,657.5 L1631.9,662.0 L1630.4,665.0 L1625.9,664.0" fill="none" stroke="#000" stroke-width="2.0" stroke-linejoin="round" stroke-linecap="round"/>
<path d="M1631.4,662.5 L1636.4,660.0 L1637.8,662.2 L1627.4,668.3" fill="none" stroke="#000" stroke-width="1.8" stroke-linejoin="round" stroke-linecap="round"/>
<path d="M1631.2,742.0 L1621.6,742.0 L1621.8,760.0 L1627.1,767.6 L1630.6,765.6 Z" fill="#000" stroke="#000" stroke-width="0.6" stroke-linejoin="round" stroke-linecap="round"/>
<path d="M1639.6,728.0 L1636.8,725.8 L1633.4,728.0 L1631.0,744.0 L1633.4,751.5 L1639.2,754.0 Z" fill="#000" stroke="#000" stroke-width="0.5" stroke-linejoin="round" stroke-linecap="round"/>
<path d="M1634.9,733.0 L1631.9,736.0 L1631.9,744.0 L1629.4,746.0" fill="none" stroke="#000" stroke-width="1.4" stroke-linejoin="round" stroke-linecap="round"/>
<path d="M1626.9,708.8 L1640.4,712.0 L1640.4,716.8 L1626.9,724.2" fill="none" stroke="#000" stroke-width="1.6" stroke-linejoin="round" stroke-linecap="round"/>
<path d="M1640.4,716.8 L1626.9,713.6" fill="none" stroke="#000" stroke-width="1.4" stroke-linejoin="round" stroke-linecap="round"/>
<path d="M1760.4,598.5 L1759.4,594.5 L1754.2,592.2 L1751.6,593.0 L1626.4,668.3 L1626.4,709.0 L1635.7,711.7 L1638.8,713.7 L1759.8,640.6 L1760.7,637.0 Z" fill="#fff" stroke="#000" stroke-width="0.0" stroke-linejoin="round" stroke-linecap="round"/>
<path d="M1626.4,668.3 L1751.6,593.0 L1754.2,592.2 L1759.4,594.5 L1760.4,598.5 L1760.7,637.0 L1759.8,640.6 L1638.8,713.7 L1635.7,711.5" fill="none" stroke="#000" stroke-width="1.6" stroke-linejoin="round" stroke-linecap="round"/>
<path d="M1755.6,594.2 L1757.2,638.2 L1635.7,711.5" fill="none" stroke="#000" stroke-width="1.6" stroke-linejoin="round" stroke-linecap="round"/>
<ellipse cx="1726.3" cy="630.7" rx="3.2" ry="6.4" fill="none" stroke="#000" stroke-width="1.3"/>
<ellipse cx="1726.9" cy="630.7" rx="2.0" ry="5.4" fill="none" stroke="#000" stroke-width="0.9"/>
<ellipse cx="1676.8" cy="661.0" rx="3.2" ry="6.4" fill="none" stroke="#000" stroke-width="1.3"/>
<ellipse cx="1677.4" cy="661.0" rx="2.0" ry="5.4" fill="none" stroke="#000" stroke-width="0.9"/>
</svg>
</body></html>
